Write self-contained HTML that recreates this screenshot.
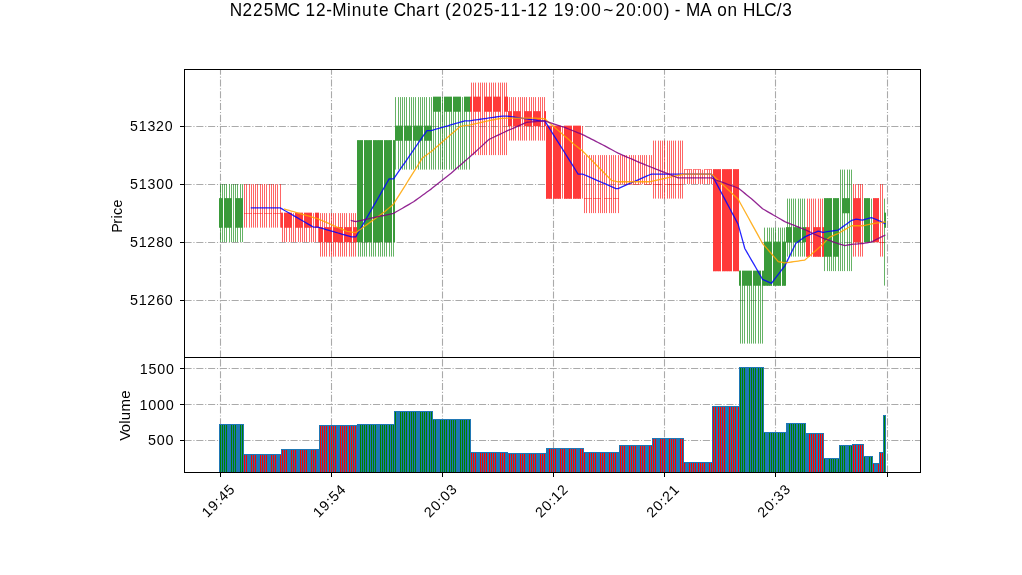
<!DOCTYPE html><html><head><meta charset="utf-8"><title>N225MC chart</title><style>html,body{margin:0;padding:0;background:#fff;overflow:hidden}svg{display:block;will-change:transform}text{font-family:"Liberation Sans",sans-serif;fill:#000}</style></head><body>
<svg width="1022" height="575" viewBox="0 0 1022 575">
<defs><clipPath id="cp"><rect x="184.5" y="69.5" width="736" height="288"/></clipPath>
<clipPath id="cv"><rect x="184.5" y="357.5" width="736" height="115"/></clipPath></defs>
<rect width="1022" height="575" fill="#fff"/>
<g stroke="#aaa" stroke-width="1.1" fill="none" stroke-dasharray="7.11 1.78 1.11 1.78">
<line x1="184.5" y1="126.5" x2="920.5" y2="126.5"/>
<line x1="184.5" y1="184.5" x2="920.5" y2="184.5"/>
<line x1="184.5" y1="242.5" x2="920.5" y2="242.5"/>
<line x1="184.5" y1="300.5" x2="920.5" y2="300.5"/>
<line x1="220.5" y1="357.5" x2="220.5" y2="69.5"/>
<line x1="331.5" y1="357.5" x2="331.5" y2="69.5"/>
<line x1="442.5" y1="357.5" x2="442.5" y2="69.5"/>
<line x1="553.5" y1="357.5" x2="553.5" y2="69.5"/>
<line x1="664.5" y1="357.5" x2="664.5" y2="69.5"/>
<line x1="775.5" y1="357.5" x2="775.5" y2="69.5"/>
<line x1="887.5" y1="357.5" x2="887.5" y2="69.5"/>
<line x1="184.5" y1="368.5" x2="920.5" y2="368.5"/>
<line x1="184.5" y1="404.5" x2="920.5" y2="404.5"/>
<line x1="184.5" y1="440.5" x2="920.5" y2="440.5"/>
<line x1="220.5" y1="472.5" x2="220.5" y2="357.5"/>
<line x1="331.5" y1="472.5" x2="331.5" y2="357.5"/>
<line x1="442.5" y1="472.5" x2="442.5" y2="357.5"/>
<line x1="553.5" y1="472.5" x2="553.5" y2="357.5"/>
<line x1="664.5" y1="472.5" x2="664.5" y2="357.5"/>
<line x1="775.5" y1="472.5" x2="775.5" y2="357.5"/>
<line x1="887.5" y1="472.5" x2="887.5" y2="357.5"/>
</g>
<g clip-path="url(#cp)">
<rect x="220" y="184.1" width="1" height="58" fill="rgba(0,128,0,0.6)"/>
<rect x="222" y="184.1" width="1" height="58" fill="rgba(0,128,0,0.6)"/>
<rect x="224" y="184.1" width="1" height="58" fill="rgba(0,128,0,0.6)"/>
<rect x="226" y="184.1" width="1" height="58" fill="rgba(0,128,0,0.6)"/>
<rect x="229" y="184.1" width="1" height="58" fill="rgba(0,128,0,0.6)"/>
<rect x="231" y="184.1" width="1" height="58" fill="rgba(0,128,0,0.6)"/>
<rect x="233" y="184.1" width="1" height="58" fill="rgba(0,128,0,0.6)"/>
<rect x="235" y="184.1" width="1" height="58" fill="rgba(0,128,0,0.6)"/>
<rect x="237" y="184.1" width="1" height="58" fill="rgba(0,128,0,0.6)"/>
<rect x="240" y="184.1" width="1" height="58" fill="rgba(0,128,0,0.6)"/>
<rect x="242" y="184.1" width="1" height="58" fill="rgba(0,128,0,0.6)"/>
<rect x="244" y="184.1" width="1" height="43.5" fill="rgba(255,0,0,0.6)"/>
<rect x="246" y="184.1" width="1" height="43.5" fill="rgba(255,0,0,0.6)"/>
<rect x="249" y="184.1" width="1" height="43.5" fill="rgba(255,0,0,0.6)"/>
<rect x="251" y="184.1" width="1" height="43.5" fill="rgba(255,0,0,0.6)"/>
<rect x="253" y="184.1" width="1" height="43.5" fill="rgba(255,0,0,0.6)"/>
<rect x="255" y="184.1" width="1" height="43.5" fill="rgba(255,0,0,0.6)"/>
<rect x="257" y="184.1" width="1" height="43.5" fill="rgba(255,0,0,0.6)"/>
<rect x="260" y="184.1" width="1" height="43.5" fill="rgba(255,0,0,0.6)"/>
<rect x="262" y="184.1" width="1" height="43.5" fill="rgba(255,0,0,0.6)"/>
<rect x="264" y="184.1" width="1" height="43.5" fill="rgba(255,0,0,0.6)"/>
<rect x="266" y="184.1" width="1" height="43.5" fill="rgba(255,0,0,0.6)"/>
<rect x="269" y="184.1" width="1" height="43.5" fill="rgba(255,0,0,0.6)"/>
<rect x="271" y="184.1" width="1" height="43.5" fill="rgba(255,0,0,0.6)"/>
<rect x="273" y="184.1" width="1" height="43.5" fill="rgba(255,0,0,0.6)"/>
<rect x="275" y="184.1" width="1" height="43.5" fill="rgba(255,0,0,0.6)"/>
<rect x="277" y="184.1" width="1" height="43.5" fill="rgba(255,0,0,0.6)"/>
<rect x="280" y="184.1" width="1" height="43.5" fill="rgba(255,0,0,0.6)"/>
<rect x="282" y="213.1" width="1" height="29" fill="rgba(255,0,0,0.6)"/>
<rect x="284" y="213.1" width="1" height="29" fill="rgba(255,0,0,0.6)"/>
<rect x="286" y="213.1" width="1" height="29" fill="rgba(255,0,0,0.6)"/>
<rect x="289" y="213.1" width="1" height="29" fill="rgba(255,0,0,0.6)"/>
<rect x="291" y="213.1" width="1" height="29" fill="rgba(255,0,0,0.6)"/>
<rect x="293" y="213.1" width="1" height="29" fill="rgba(255,0,0,0.6)"/>
<rect x="295" y="213.1" width="1" height="29" fill="rgba(255,0,0,0.6)"/>
<rect x="298" y="213.1" width="1" height="29" fill="rgba(255,0,0,0.6)"/>
<rect x="300" y="213.1" width="1" height="29" fill="rgba(255,0,0,0.6)"/>
<rect x="302" y="213.1" width="1" height="29" fill="rgba(255,0,0,0.6)"/>
<rect x="304" y="213.1" width="1" height="29" fill="rgba(255,0,0,0.6)"/>
<rect x="306" y="213.1" width="1" height="29" fill="rgba(255,0,0,0.6)"/>
<rect x="309" y="213.1" width="1" height="29" fill="rgba(255,0,0,0.6)"/>
<rect x="311" y="213.1" width="1" height="29" fill="rgba(255,0,0,0.6)"/>
<rect x="313" y="213.1" width="1" height="29" fill="rgba(255,0,0,0.6)"/>
<rect x="315" y="213.1" width="1" height="29" fill="rgba(255,0,0,0.6)"/>
<rect x="318" y="213.1" width="1" height="29" fill="rgba(255,0,0,0.6)"/>
<rect x="320" y="213.1" width="1" height="43.5" fill="rgba(255,0,0,0.6)"/>
<rect x="322" y="213.1" width="1" height="43.5" fill="rgba(255,0,0,0.6)"/>
<rect x="324" y="213.1" width="1" height="43.5" fill="rgba(255,0,0,0.6)"/>
<rect x="326" y="213.1" width="1" height="43.5" fill="rgba(255,0,0,0.6)"/>
<rect x="329" y="213.1" width="1" height="43.5" fill="rgba(255,0,0,0.6)"/>
<rect x="331" y="213.1" width="1" height="43.5" fill="rgba(255,0,0,0.6)"/>
<rect x="333" y="213.1" width="1" height="43.5" fill="rgba(255,0,0,0.6)"/>
<rect x="335" y="213.1" width="1" height="43.5" fill="rgba(255,0,0,0.6)"/>
<rect x="338" y="213.1" width="1" height="43.5" fill="rgba(255,0,0,0.6)"/>
<rect x="340" y="213.1" width="1" height="43.5" fill="rgba(255,0,0,0.6)"/>
<rect x="342" y="213.1" width="1" height="43.5" fill="rgba(255,0,0,0.6)"/>
<rect x="344" y="213.1" width="1" height="43.5" fill="rgba(255,0,0,0.6)"/>
<rect x="346" y="213.1" width="1" height="43.5" fill="rgba(255,0,0,0.6)"/>
<rect x="349" y="213.1" width="1" height="43.5" fill="rgba(255,0,0,0.6)"/>
<rect x="351" y="213.1" width="1" height="43.5" fill="rgba(255,0,0,0.6)"/>
<rect x="353" y="213.1" width="1" height="43.5" fill="rgba(255,0,0,0.6)"/>
<rect x="355" y="213.1" width="1" height="43.5" fill="rgba(255,0,0,0.6)"/>
<rect x="358" y="140.6" width="1" height="116" fill="rgba(0,128,0,0.6)"/>
<rect x="360" y="140.6" width="1" height="116" fill="rgba(0,128,0,0.6)"/>
<rect x="362" y="140.6" width="1" height="116" fill="rgba(0,128,0,0.6)"/>
<rect x="364" y="140.6" width="1" height="116" fill="rgba(0,128,0,0.6)"/>
<rect x="366" y="140.6" width="1" height="116" fill="rgba(0,128,0,0.6)"/>
<rect x="369" y="140.6" width="1" height="116" fill="rgba(0,128,0,0.6)"/>
<rect x="371" y="140.6" width="1" height="116" fill="rgba(0,128,0,0.6)"/>
<rect x="373" y="140.6" width="1" height="116" fill="rgba(0,128,0,0.6)"/>
<rect x="375" y="140.6" width="1" height="116" fill="rgba(0,128,0,0.6)"/>
<rect x="378" y="140.6" width="1" height="116" fill="rgba(0,128,0,0.6)"/>
<rect x="380" y="140.6" width="1" height="116" fill="rgba(0,128,0,0.6)"/>
<rect x="382" y="140.6" width="1" height="116" fill="rgba(0,128,0,0.6)"/>
<rect x="384" y="140.6" width="1" height="116" fill="rgba(0,128,0,0.6)"/>
<rect x="386" y="140.6" width="1" height="116" fill="rgba(0,128,0,0.6)"/>
<rect x="389" y="140.6" width="1" height="116" fill="rgba(0,128,0,0.6)"/>
<rect x="391" y="140.6" width="1" height="116" fill="rgba(0,128,0,0.6)"/>
<rect x="393" y="140.6" width="1" height="116" fill="rgba(0,128,0,0.6)"/>
<rect x="395" y="97.1" width="1" height="72.5" fill="rgba(0,128,0,0.6)"/>
<rect x="398" y="97.1" width="1" height="72.5" fill="rgba(0,128,0,0.6)"/>
<rect x="400" y="97.1" width="1" height="72.5" fill="rgba(0,128,0,0.6)"/>
<rect x="402" y="97.1" width="1" height="72.5" fill="rgba(0,128,0,0.6)"/>
<rect x="404" y="97.1" width="1" height="72.5" fill="rgba(0,128,0,0.6)"/>
<rect x="406" y="97.1" width="1" height="72.5" fill="rgba(0,128,0,0.6)"/>
<rect x="409" y="97.1" width="1" height="72.5" fill="rgba(0,128,0,0.6)"/>
<rect x="411" y="97.1" width="1" height="72.5" fill="rgba(0,128,0,0.6)"/>
<rect x="413" y="97.1" width="1" height="72.5" fill="rgba(0,128,0,0.6)"/>
<rect x="415" y="97.1" width="1" height="72.5" fill="rgba(0,128,0,0.6)"/>
<rect x="418" y="97.1" width="1" height="72.5" fill="rgba(0,128,0,0.6)"/>
<rect x="420" y="97.1" width="1" height="72.5" fill="rgba(0,128,0,0.6)"/>
<rect x="422" y="97.1" width="1" height="72.5" fill="rgba(0,128,0,0.6)"/>
<rect x="424" y="97.1" width="1" height="72.5" fill="rgba(0,128,0,0.6)"/>
<rect x="426" y="97.1" width="1" height="72.5" fill="rgba(0,128,0,0.6)"/>
<rect x="429" y="97.1" width="1" height="72.5" fill="rgba(0,128,0,0.6)"/>
<rect x="431" y="97.1" width="1" height="72.5" fill="rgba(0,128,0,0.6)"/>
<rect x="433" y="97.1" width="1" height="72.5" fill="rgba(0,128,0,0.6)"/>
<rect x="435" y="97.1" width="1" height="72.5" fill="rgba(0,128,0,0.6)"/>
<rect x="438" y="97.1" width="1" height="72.5" fill="rgba(0,128,0,0.6)"/>
<rect x="440" y="97.1" width="1" height="72.5" fill="rgba(0,128,0,0.6)"/>
<rect x="442" y="97.1" width="1" height="72.5" fill="rgba(0,128,0,0.6)"/>
<rect x="444" y="97.1" width="1" height="72.5" fill="rgba(0,128,0,0.6)"/>
<rect x="446" y="97.1" width="1" height="72.5" fill="rgba(0,128,0,0.6)"/>
<rect x="449" y="97.1" width="1" height="72.5" fill="rgba(0,128,0,0.6)"/>
<rect x="451" y="97.1" width="1" height="72.5" fill="rgba(0,128,0,0.6)"/>
<rect x="453" y="97.1" width="1" height="72.5" fill="rgba(0,128,0,0.6)"/>
<rect x="455" y="97.1" width="1" height="72.5" fill="rgba(0,128,0,0.6)"/>
<rect x="458" y="97.1" width="1" height="72.5" fill="rgba(0,128,0,0.6)"/>
<rect x="460" y="97.1" width="1" height="72.5" fill="rgba(0,128,0,0.6)"/>
<rect x="462" y="97.1" width="1" height="72.5" fill="rgba(0,128,0,0.6)"/>
<rect x="464" y="97.1" width="1" height="72.5" fill="rgba(0,128,0,0.6)"/>
<rect x="466" y="97.1" width="1" height="72.5" fill="rgba(0,128,0,0.6)"/>
<rect x="469" y="97.1" width="1" height="72.5" fill="rgba(0,128,0,0.6)"/>
<rect x="471" y="82.6" width="1" height="72.5" fill="rgba(255,0,0,0.6)"/>
<rect x="473" y="82.6" width="1" height="72.5" fill="rgba(255,0,0,0.6)"/>
<rect x="475" y="82.6" width="1" height="72.5" fill="rgba(255,0,0,0.6)"/>
<rect x="478" y="82.6" width="1" height="72.5" fill="rgba(255,0,0,0.6)"/>
<rect x="480" y="82.6" width="1" height="72.5" fill="rgba(255,0,0,0.6)"/>
<rect x="482" y="82.6" width="1" height="72.5" fill="rgba(255,0,0,0.6)"/>
<rect x="484" y="82.6" width="1" height="72.5" fill="rgba(255,0,0,0.6)"/>
<rect x="486" y="82.6" width="1" height="72.5" fill="rgba(255,0,0,0.6)"/>
<rect x="489" y="82.6" width="1" height="72.5" fill="rgba(255,0,0,0.6)"/>
<rect x="491" y="82.6" width="1" height="72.5" fill="rgba(255,0,0,0.6)"/>
<rect x="493" y="82.6" width="1" height="72.5" fill="rgba(255,0,0,0.6)"/>
<rect x="495" y="82.6" width="1" height="72.5" fill="rgba(255,0,0,0.6)"/>
<rect x="498" y="82.6" width="1" height="72.5" fill="rgba(255,0,0,0.6)"/>
<rect x="500" y="82.6" width="1" height="72.5" fill="rgba(255,0,0,0.6)"/>
<rect x="502" y="82.6" width="1" height="72.5" fill="rgba(255,0,0,0.6)"/>
<rect x="504" y="82.6" width="1" height="72.5" fill="rgba(255,0,0,0.6)"/>
<rect x="506" y="82.6" width="1" height="72.5" fill="rgba(255,0,0,0.6)"/>
<rect x="509" y="97.1" width="1" height="43.5" fill="rgba(255,0,0,0.6)"/>
<rect x="511" y="97.1" width="1" height="43.5" fill="rgba(255,0,0,0.6)"/>
<rect x="513" y="97.1" width="1" height="43.5" fill="rgba(255,0,0,0.6)"/>
<rect x="515" y="97.1" width="1" height="43.5" fill="rgba(255,0,0,0.6)"/>
<rect x="518" y="97.1" width="1" height="43.5" fill="rgba(255,0,0,0.6)"/>
<rect x="520" y="97.1" width="1" height="43.5" fill="rgba(255,0,0,0.6)"/>
<rect x="522" y="97.1" width="1" height="43.5" fill="rgba(255,0,0,0.6)"/>
<rect x="524" y="97.1" width="1" height="43.5" fill="rgba(255,0,0,0.6)"/>
<rect x="526" y="97.1" width="1" height="43.5" fill="rgba(255,0,0,0.6)"/>
<rect x="529" y="97.1" width="1" height="43.5" fill="rgba(255,0,0,0.6)"/>
<rect x="531" y="97.1" width="1" height="43.5" fill="rgba(255,0,0,0.6)"/>
<rect x="533" y="97.1" width="1" height="43.5" fill="rgba(255,0,0,0.6)"/>
<rect x="535" y="97.1" width="1" height="43.5" fill="rgba(255,0,0,0.6)"/>
<rect x="538" y="97.1" width="1" height="43.5" fill="rgba(255,0,0,0.6)"/>
<rect x="540" y="97.1" width="1" height="43.5" fill="rgba(255,0,0,0.6)"/>
<rect x="542" y="97.1" width="1" height="43.5" fill="rgba(255,0,0,0.6)"/>
<rect x="544" y="97.1" width="1" height="43.5" fill="rgba(255,0,0,0.6)"/>
<rect x="546" y="126.1" width="1" height="72.5" fill="rgba(255,0,0,0.6)"/>
<rect x="549" y="126.1" width="1" height="72.5" fill="rgba(255,0,0,0.6)"/>
<rect x="551" y="126.1" width="1" height="72.5" fill="rgba(255,0,0,0.6)"/>
<rect x="553" y="126.1" width="1" height="72.5" fill="rgba(255,0,0,0.6)"/>
<rect x="555" y="126.1" width="1" height="72.5" fill="rgba(255,0,0,0.6)"/>
<rect x="558" y="126.1" width="1" height="72.5" fill="rgba(255,0,0,0.6)"/>
<rect x="560" y="126.1" width="1" height="72.5" fill="rgba(255,0,0,0.6)"/>
<rect x="562" y="126.1" width="1" height="72.5" fill="rgba(255,0,0,0.6)"/>
<rect x="564" y="126.1" width="1" height="72.5" fill="rgba(255,0,0,0.6)"/>
<rect x="566" y="126.1" width="1" height="72.5" fill="rgba(255,0,0,0.6)"/>
<rect x="569" y="126.1" width="1" height="72.5" fill="rgba(255,0,0,0.6)"/>
<rect x="571" y="126.1" width="1" height="72.5" fill="rgba(255,0,0,0.6)"/>
<rect x="573" y="126.1" width="1" height="72.5" fill="rgba(255,0,0,0.6)"/>
<rect x="575" y="126.1" width="1" height="72.5" fill="rgba(255,0,0,0.6)"/>
<rect x="578" y="126.1" width="1" height="72.5" fill="rgba(255,0,0,0.6)"/>
<rect x="580" y="126.1" width="1" height="72.5" fill="rgba(255,0,0,0.6)"/>
<rect x="582" y="126.1" width="1" height="72.5" fill="rgba(255,0,0,0.6)"/>
<rect x="584" y="155.1" width="1" height="58" fill="rgba(255,0,0,0.6)"/>
<rect x="586" y="155.1" width="1" height="58" fill="rgba(255,0,0,0.6)"/>
<rect x="589" y="155.1" width="1" height="58" fill="rgba(255,0,0,0.6)"/>
<rect x="591" y="155.1" width="1" height="58" fill="rgba(255,0,0,0.6)"/>
<rect x="593" y="155.1" width="1" height="58" fill="rgba(255,0,0,0.6)"/>
<rect x="595" y="155.1" width="1" height="58" fill="rgba(255,0,0,0.6)"/>
<rect x="598" y="155.1" width="1" height="58" fill="rgba(255,0,0,0.6)"/>
<rect x="600" y="155.1" width="1" height="58" fill="rgba(255,0,0,0.6)"/>
<rect x="602" y="155.1" width="1" height="58" fill="rgba(255,0,0,0.6)"/>
<rect x="604" y="155.1" width="1" height="58" fill="rgba(255,0,0,0.6)"/>
<rect x="606" y="155.1" width="1" height="58" fill="rgba(255,0,0,0.6)"/>
<rect x="609" y="155.1" width="1" height="58" fill="rgba(255,0,0,0.6)"/>
<rect x="611" y="155.1" width="1" height="58" fill="rgba(255,0,0,0.6)"/>
<rect x="613" y="155.1" width="1" height="58" fill="rgba(255,0,0,0.6)"/>
<rect x="615" y="155.1" width="1" height="58" fill="rgba(255,0,0,0.6)"/>
<rect x="618" y="155.1" width="1" height="58" fill="rgba(255,0,0,0.6)"/>
<rect x="620" y="155.1" width="1" height="29" fill="rgba(255,0,0,0.6)"/>
<rect x="622" y="155.1" width="1" height="29" fill="rgba(255,0,0,0.6)"/>
<rect x="624" y="155.1" width="1" height="29" fill="rgba(255,0,0,0.6)"/>
<rect x="626" y="155.1" width="1" height="29" fill="rgba(255,0,0,0.6)"/>
<rect x="629" y="155.1" width="1" height="29" fill="rgba(255,0,0,0.6)"/>
<rect x="631" y="155.1" width="1" height="29" fill="rgba(255,0,0,0.6)"/>
<rect x="633" y="155.1" width="1" height="29" fill="rgba(255,0,0,0.6)"/>
<rect x="635" y="155.1" width="1" height="29" fill="rgba(255,0,0,0.6)"/>
<rect x="638" y="155.1" width="1" height="29" fill="rgba(255,0,0,0.6)"/>
<rect x="640" y="155.1" width="1" height="29" fill="rgba(255,0,0,0.6)"/>
<rect x="642" y="155.1" width="1" height="29" fill="rgba(255,0,0,0.6)"/>
<rect x="644" y="155.1" width="1" height="29" fill="rgba(255,0,0,0.6)"/>
<rect x="646" y="155.1" width="1" height="29" fill="rgba(255,0,0,0.6)"/>
<rect x="649" y="155.1" width="1" height="29" fill="rgba(255,0,0,0.6)"/>
<rect x="651" y="155.1" width="1" height="29" fill="rgba(255,0,0,0.6)"/>
<rect x="653" y="140.6" width="1" height="58" fill="rgba(255,0,0,0.6)"/>
<rect x="655" y="140.6" width="1" height="58" fill="rgba(255,0,0,0.6)"/>
<rect x="658" y="140.6" width="1" height="58" fill="rgba(255,0,0,0.6)"/>
<rect x="660" y="140.6" width="1" height="58" fill="rgba(255,0,0,0.6)"/>
<rect x="662" y="140.6" width="1" height="58" fill="rgba(255,0,0,0.6)"/>
<rect x="664" y="140.6" width="1" height="58" fill="rgba(255,0,0,0.6)"/>
<rect x="667" y="140.6" width="1" height="58" fill="rgba(255,0,0,0.6)"/>
<rect x="669" y="140.6" width="1" height="58" fill="rgba(255,0,0,0.6)"/>
<rect x="671" y="140.6" width="1" height="58" fill="rgba(255,0,0,0.6)"/>
<rect x="673" y="140.6" width="1" height="58" fill="rgba(255,0,0,0.6)"/>
<rect x="675" y="140.6" width="1" height="58" fill="rgba(255,0,0,0.6)"/>
<rect x="678" y="140.6" width="1" height="58" fill="rgba(255,0,0,0.6)"/>
<rect x="680" y="140.6" width="1" height="58" fill="rgba(255,0,0,0.6)"/>
<rect x="682" y="140.6" width="1" height="58" fill="rgba(255,0,0,0.6)"/>
<rect x="684" y="169.6" width="1" height="14.5" fill="rgba(255,0,0,0.6)"/>
<rect x="687" y="169.6" width="1" height="14.5" fill="rgba(255,0,0,0.6)"/>
<rect x="689" y="169.6" width="1" height="14.5" fill="rgba(255,0,0,0.6)"/>
<rect x="691" y="169.6" width="1" height="14.5" fill="rgba(255,0,0,0.6)"/>
<rect x="693" y="169.6" width="1" height="14.5" fill="rgba(255,0,0,0.6)"/>
<rect x="695" y="169.6" width="1" height="14.5" fill="rgba(255,0,0,0.6)"/>
<rect x="698" y="169.6" width="1" height="14.5" fill="rgba(255,0,0,0.6)"/>
<rect x="700" y="169.6" width="1" height="14.5" fill="rgba(255,0,0,0.6)"/>
<rect x="702" y="169.6" width="1" height="14.5" fill="rgba(255,0,0,0.6)"/>
<rect x="704" y="169.6" width="1" height="14.5" fill="rgba(255,0,0,0.6)"/>
<rect x="707" y="169.6" width="1" height="14.5" fill="rgba(255,0,0,0.6)"/>
<rect x="709" y="169.6" width="1" height="14.5" fill="rgba(255,0,0,0.6)"/>
<rect x="711" y="169.6" width="1" height="14.5" fill="rgba(255,0,0,0.6)"/>
<rect x="713" y="169.6" width="1" height="101.5" fill="rgba(255,0,0,0.6)"/>
<rect x="715" y="169.6" width="1" height="101.5" fill="rgba(255,0,0,0.6)"/>
<rect x="718" y="169.6" width="1" height="101.5" fill="rgba(255,0,0,0.6)"/>
<rect x="720" y="169.6" width="1" height="101.5" fill="rgba(255,0,0,0.6)"/>
<rect x="722" y="169.6" width="1" height="101.5" fill="rgba(255,0,0,0.6)"/>
<rect x="724" y="169.6" width="1" height="101.5" fill="rgba(255,0,0,0.6)"/>
<rect x="727" y="169.6" width="1" height="101.5" fill="rgba(255,0,0,0.6)"/>
<rect x="729" y="169.6" width="1" height="101.5" fill="rgba(255,0,0,0.6)"/>
<rect x="731" y="169.6" width="1" height="101.5" fill="rgba(255,0,0,0.6)"/>
<rect x="733" y="169.6" width="1" height="101.5" fill="rgba(255,0,0,0.6)"/>
<rect x="735" y="169.6" width="1" height="101.5" fill="rgba(255,0,0,0.6)"/>
<rect x="738" y="169.6" width="1" height="101.5" fill="rgba(255,0,0,0.6)"/>
<rect x="740" y="271.1" width="1" height="72.5" fill="rgba(0,128,0,0.6)"/>
<rect x="742" y="271.1" width="1" height="72.5" fill="rgba(0,128,0,0.6)"/>
<rect x="744" y="271.1" width="1" height="72.5" fill="rgba(0,128,0,0.6)"/>
<rect x="747" y="271.1" width="1" height="72.5" fill="rgba(0,128,0,0.6)"/>
<rect x="749" y="271.1" width="1" height="72.5" fill="rgba(0,128,0,0.6)"/>
<rect x="751" y="271.1" width="1" height="72.5" fill="rgba(0,128,0,0.6)"/>
<rect x="753" y="271.1" width="1" height="72.5" fill="rgba(0,128,0,0.6)"/>
<rect x="755" y="271.1" width="1" height="72.5" fill="rgba(0,128,0,0.6)"/>
<rect x="758" y="271.1" width="1" height="72.5" fill="rgba(0,128,0,0.6)"/>
<rect x="760" y="271.1" width="1" height="72.5" fill="rgba(0,128,0,0.6)"/>
<rect x="762" y="271.1" width="1" height="72.5" fill="rgba(0,128,0,0.6)"/>
<rect x="764" y="227.6" width="1" height="58" fill="rgba(0,128,0,0.6)"/>
<rect x="767" y="227.6" width="1" height="58" fill="rgba(0,128,0,0.6)"/>
<rect x="769" y="227.6" width="1" height="58" fill="rgba(0,128,0,0.6)"/>
<rect x="771" y="227.6" width="1" height="58" fill="rgba(0,128,0,0.6)"/>
<rect x="773" y="227.6" width="1" height="58" fill="rgba(0,128,0,0.6)"/>
<rect x="775" y="227.6" width="1" height="58" fill="rgba(0,128,0,0.6)"/>
<rect x="778" y="227.6" width="1" height="58" fill="rgba(0,128,0,0.6)"/>
<rect x="780" y="227.6" width="1" height="58" fill="rgba(0,128,0,0.6)"/>
<rect x="782" y="227.6" width="1" height="58" fill="rgba(0,128,0,0.6)"/>
<rect x="784" y="227.6" width="1" height="58" fill="rgba(0,128,0,0.6)"/>
<rect x="787" y="198.6" width="1" height="58" fill="rgba(0,128,0,0.6)"/>
<rect x="789" y="198.6" width="1" height="58" fill="rgba(0,128,0,0.6)"/>
<rect x="791" y="198.6" width="1" height="58" fill="rgba(0,128,0,0.6)"/>
<rect x="793" y="198.6" width="1" height="58" fill="rgba(0,128,0,0.6)"/>
<rect x="795" y="198.6" width="1" height="58" fill="rgba(0,128,0,0.6)"/>
<rect x="798" y="198.6" width="1" height="58" fill="rgba(0,128,0,0.6)"/>
<rect x="800" y="198.6" width="1" height="58" fill="rgba(0,128,0,0.6)"/>
<rect x="802" y="198.6" width="1" height="58" fill="rgba(0,128,0,0.6)"/>
<rect x="804" y="198.6" width="1" height="58" fill="rgba(0,128,0,0.6)"/>
<rect x="807" y="198.6" width="1" height="58" fill="rgba(255,0,0,0.6)"/>
<rect x="809" y="198.6" width="1" height="58" fill="rgba(255,0,0,0.6)"/>
<rect x="811" y="198.6" width="1" height="58" fill="rgba(255,0,0,0.6)"/>
<rect x="813" y="198.6" width="1" height="58" fill="rgba(255,0,0,0.6)"/>
<rect x="815" y="198.6" width="1" height="58" fill="rgba(255,0,0,0.6)"/>
<rect x="818" y="198.6" width="1" height="58" fill="rgba(255,0,0,0.6)"/>
<rect x="820" y="198.6" width="1" height="58" fill="rgba(255,0,0,0.6)"/>
<rect x="822" y="198.6" width="1" height="58" fill="rgba(255,0,0,0.6)"/>
<rect x="824" y="198.6" width="1" height="72.5" fill="rgba(0,128,0,0.6)"/>
<rect x="827" y="198.6" width="1" height="72.5" fill="rgba(0,128,0,0.6)"/>
<rect x="829" y="198.6" width="1" height="72.5" fill="rgba(0,128,0,0.6)"/>
<rect x="831" y="198.6" width="1" height="72.5" fill="rgba(0,128,0,0.6)"/>
<rect x="833" y="198.6" width="1" height="72.5" fill="rgba(0,128,0,0.6)"/>
<rect x="835" y="198.6" width="1" height="72.5" fill="rgba(0,128,0,0.6)"/>
<rect x="838" y="198.6" width="1" height="72.5" fill="rgba(0,128,0,0.6)"/>
<rect x="840" y="169.6" width="1" height="101.5" fill="rgba(0,128,0,0.6)"/>
<rect x="842" y="169.6" width="1" height="101.5" fill="rgba(0,128,0,0.6)"/>
<rect x="844" y="169.6" width="1" height="101.5" fill="rgba(0,128,0,0.6)"/>
<rect x="847" y="169.6" width="1" height="101.5" fill="rgba(0,128,0,0.6)"/>
<rect x="849" y="169.6" width="1" height="101.5" fill="rgba(0,128,0,0.6)"/>
<rect x="851" y="169.6" width="1" height="101.5" fill="rgba(0,128,0,0.6)"/>
<rect x="853" y="184.1" width="1" height="72.5" fill="rgba(255,0,0,0.6)"/>
<rect x="855" y="184.1" width="1" height="72.5" fill="rgba(255,0,0,0.6)"/>
<rect x="858" y="184.1" width="1" height="72.5" fill="rgba(255,0,0,0.6)"/>
<rect x="860" y="184.1" width="1" height="72.5" fill="rgba(255,0,0,0.6)"/>
<rect x="862" y="184.1" width="1" height="72.5" fill="rgba(255,0,0,0.6)"/>
<rect x="864" y="198.6" width="1" height="43.5" fill="rgba(0,128,0,0.6)"/>
<rect x="867" y="198.6" width="1" height="43.5" fill="rgba(0,128,0,0.6)"/>
<rect x="869" y="198.6" width="1" height="43.5" fill="rgba(0,128,0,0.6)"/>
<rect x="871" y="198.6" width="1" height="43.5" fill="rgba(0,128,0,0.6)"/>
<rect x="873" y="198.6" width="1" height="43.5" fill="rgba(255,0,0,0.6)"/>
<rect x="875" y="198.6" width="1" height="43.5" fill="rgba(255,0,0,0.6)"/>
<rect x="878" y="198.6" width="1" height="43.5" fill="rgba(255,0,0,0.6)"/>
<rect x="880" y="184.1" width="1" height="72.5" fill="rgba(255,0,0,0.6)"/>
<rect x="882" y="184.1" width="1" height="72.5" fill="rgba(255,0,0,0.6)"/>
<rect x="884" y="198.6" width="1" height="87" fill="rgba(0,128,0,0.6)"/>
<rect x="219" y="198.15" width="2" height="29.6" fill="#3a9a3a"/>
<rect x="221" y="198.15" width="2" height="29.6" fill="#3a9a3a"/>
<rect x="224" y="198.15" width="2" height="29.6" fill="#3a9a3a"/>
<rect x="226" y="198.15" width="2" height="29.6" fill="#3a9a3a"/>
<rect x="228" y="198.15" width="2" height="29.6" fill="#3a9a3a"/>
<rect x="230" y="198.15" width="2" height="29.6" fill="#3a9a3a"/>
<rect x="235" y="198.15" width="2" height="29.6" fill="#3a9a3a"/>
<rect x="237" y="198.15" width="2" height="29.6" fill="#3a9a3a"/>
<rect x="239" y="198.15" width="2" height="29.6" fill="#3a9a3a"/>
<rect x="241" y="198.15" width="2" height="29.6" fill="#3a9a3a"/>
<rect x="244" y="213" width="2" height="1" fill="rgba(255,0,0,0.45)"/>
<rect x="246" y="213" width="2" height="1" fill="rgba(255,0,0,0.45)"/>
<rect x="248" y="213" width="2" height="1" fill="rgba(255,0,0,0.45)"/>
<rect x="250" y="213" width="2" height="1" fill="rgba(255,0,0,0.45)"/>
<rect x="253" y="213" width="2" height="1" fill="rgba(255,0,0,0.45)"/>
<rect x="255" y="213" width="2" height="1" fill="rgba(255,0,0,0.45)"/>
<rect x="257" y="213" width="2" height="1" fill="rgba(255,0,0,0.45)"/>
<rect x="259" y="213" width="2" height="1" fill="rgba(255,0,0,0.45)"/>
<rect x="261" y="213" width="2" height="1" fill="rgba(255,0,0,0.45)"/>
<rect x="264" y="213" width="2" height="1" fill="rgba(255,0,0,0.45)"/>
<rect x="266" y="213" width="2" height="1" fill="rgba(255,0,0,0.45)"/>
<rect x="268" y="213" width="2" height="1" fill="rgba(255,0,0,0.45)"/>
<rect x="270" y="213" width="2" height="1" fill="rgba(255,0,0,0.45)"/>
<rect x="273" y="213" width="2" height="1" fill="rgba(255,0,0,0.45)"/>
<rect x="275" y="213" width="2" height="1" fill="rgba(255,0,0,0.45)"/>
<rect x="277" y="213" width="2" height="1" fill="rgba(255,0,0,0.45)"/>
<rect x="279" y="213" width="2" height="1" fill="rgba(255,0,0,0.45)"/>
<rect x="281" y="212.65" width="2" height="15.1" fill="#ff3a3a"/>
<rect x="284" y="212.65" width="2" height="15.1" fill="#ff3a3a"/>
<rect x="286" y="212.65" width="2" height="15.1" fill="#ff3a3a"/>
<rect x="288" y="212.65" width="2" height="15.1" fill="#ff3a3a"/>
<rect x="290" y="212.65" width="2" height="15.1" fill="#ff3a3a"/>
<rect x="295" y="212.65" width="2" height="15.1" fill="#ff3a3a"/>
<rect x="297" y="212.65" width="2" height="15.1" fill="#ff3a3a"/>
<rect x="299" y="212.65" width="2" height="15.1" fill="#ff3a3a"/>
<rect x="301" y="212.65" width="2" height="15.1" fill="#ff3a3a"/>
<rect x="304" y="212.65" width="2" height="15.1" fill="#ff3a3a"/>
<rect x="306" y="212.65" width="2" height="15.1" fill="#ff3a3a"/>
<rect x="308" y="212.65" width="2" height="15.1" fill="#ff3a3a"/>
<rect x="310" y="212.65" width="2" height="15.1" fill="#ff3a3a"/>
<rect x="315" y="212.65" width="2" height="15.1" fill="#ff3a3a"/>
<rect x="317" y="212.65" width="2" height="15.1" fill="#ff3a3a"/>
<rect x="319" y="227.15" width="2" height="15.1" fill="#ff3a3a"/>
<rect x="321" y="227.15" width="2" height="15.1" fill="#ff3a3a"/>
<rect x="324" y="227.15" width="2" height="15.1" fill="#ff3a3a"/>
<rect x="326" y="227.15" width="2" height="15.1" fill="#ff3a3a"/>
<rect x="328" y="227.15" width="2" height="15.1" fill="#ff3a3a"/>
<rect x="330" y="227.15" width="2" height="15.1" fill="#ff3a3a"/>
<rect x="333" y="227.15" width="2" height="15.1" fill="#ff3a3a"/>
<rect x="335" y="227.15" width="2" height="15.1" fill="#ff3a3a"/>
<rect x="337" y="227.15" width="2" height="15.1" fill="#ff3a3a"/>
<rect x="339" y="227.15" width="2" height="15.1" fill="#ff3a3a"/>
<rect x="341" y="227.15" width="2" height="15.1" fill="#ff3a3a"/>
<rect x="344" y="227.15" width="2" height="15.1" fill="#ff3a3a"/>
<rect x="346" y="227.15" width="2" height="15.1" fill="#ff3a3a"/>
<rect x="348" y="227.15" width="2" height="15.1" fill="#ff3a3a"/>
<rect x="350" y="227.15" width="2" height="15.1" fill="#ff3a3a"/>
<rect x="353" y="227.15" width="2" height="15.1" fill="#ff3a3a"/>
<rect x="355" y="227.15" width="2" height="15.1" fill="#ff3a3a"/>
<rect x="357" y="140.15" width="2" height="102.1" fill="#3a9a3a"/>
<rect x="359" y="140.15" width="2" height="102.1" fill="#3a9a3a"/>
<rect x="361" y="140.15" width="2" height="102.1" fill="#3a9a3a"/>
<rect x="364" y="140.15" width="2" height="102.1" fill="#3a9a3a"/>
<rect x="366" y="140.15" width="2" height="102.1" fill="#3a9a3a"/>
<rect x="368" y="140.15" width="2" height="102.1" fill="#3a9a3a"/>
<rect x="370" y="140.15" width="2" height="102.1" fill="#3a9a3a"/>
<rect x="373" y="140.15" width="2" height="102.1" fill="#3a9a3a"/>
<rect x="375" y="140.15" width="2" height="102.1" fill="#3a9a3a"/>
<rect x="377" y="140.15" width="2" height="102.1" fill="#3a9a3a"/>
<rect x="379" y="140.15" width="2" height="102.1" fill="#3a9a3a"/>
<rect x="381" y="140.15" width="2" height="102.1" fill="#3a9a3a"/>
<rect x="384" y="140.15" width="2" height="102.1" fill="#3a9a3a"/>
<rect x="386" y="140.15" width="2" height="102.1" fill="#3a9a3a"/>
<rect x="388" y="140.15" width="2" height="102.1" fill="#3a9a3a"/>
<rect x="390" y="140.15" width="2" height="102.1" fill="#3a9a3a"/>
<rect x="393" y="140.15" width="2" height="102.1" fill="#3a9a3a"/>
<rect x="395" y="125.65" width="2" height="15.1" fill="#3a9a3a"/>
<rect x="397" y="125.65" width="2" height="15.1" fill="#3a9a3a"/>
<rect x="399" y="125.65" width="2" height="15.1" fill="#3a9a3a"/>
<rect x="401" y="125.65" width="2" height="15.1" fill="#3a9a3a"/>
<rect x="404" y="125.65" width="2" height="15.1" fill="#3a9a3a"/>
<rect x="406" y="125.65" width="2" height="15.1" fill="#3a9a3a"/>
<rect x="408" y="125.65" width="2" height="15.1" fill="#3a9a3a"/>
<rect x="410" y="125.65" width="2" height="15.1" fill="#3a9a3a"/>
<rect x="413" y="125.65" width="2" height="15.1" fill="#3a9a3a"/>
<rect x="415" y="125.65" width="2" height="15.1" fill="#3a9a3a"/>
<rect x="417" y="125.65" width="2" height="15.1" fill="#3a9a3a"/>
<rect x="419" y="125.65" width="2" height="15.1" fill="#3a9a3a"/>
<rect x="421" y="125.65" width="2" height="15.1" fill="#3a9a3a"/>
<rect x="424" y="125.65" width="2" height="15.1" fill="#3a9a3a"/>
<rect x="426" y="125.65" width="2" height="15.1" fill="#3a9a3a"/>
<rect x="428" y="125.65" width="2" height="15.1" fill="#3a9a3a"/>
<rect x="430" y="125.65" width="2" height="15.1" fill="#3a9a3a"/>
<rect x="433" y="96.65" width="2" height="15.1" fill="#3a9a3a"/>
<rect x="435" y="96.65" width="2" height="15.1" fill="#3a9a3a"/>
<rect x="437" y="96.65" width="2" height="15.1" fill="#3a9a3a"/>
<rect x="439" y="96.65" width="2" height="15.1" fill="#3a9a3a"/>
<rect x="444" y="96.65" width="2" height="15.1" fill="#3a9a3a"/>
<rect x="446" y="96.65" width="2" height="15.1" fill="#3a9a3a"/>
<rect x="448" y="96.65" width="2" height="15.1" fill="#3a9a3a"/>
<rect x="450" y="96.65" width="2" height="15.1" fill="#3a9a3a"/>
<rect x="453" y="96.65" width="2" height="15.1" fill="#3a9a3a"/>
<rect x="455" y="96.65" width="2" height="15.1" fill="#3a9a3a"/>
<rect x="457" y="96.65" width="2" height="15.1" fill="#3a9a3a"/>
<rect x="459" y="96.65" width="2" height="15.1" fill="#3a9a3a"/>
<rect x="464" y="96.65" width="2" height="15.1" fill="#3a9a3a"/>
<rect x="466" y="96.65" width="2" height="15.1" fill="#3a9a3a"/>
<rect x="468" y="96.65" width="2" height="15.1" fill="#3a9a3a"/>
<rect x="470" y="96.65" width="2" height="15.1" fill="#ff3a3a"/>
<rect x="473" y="96.65" width="2" height="15.1" fill="#ff3a3a"/>
<rect x="475" y="96.65" width="2" height="15.1" fill="#ff3a3a"/>
<rect x="477" y="96.65" width="2" height="15.1" fill="#ff3a3a"/>
<rect x="479" y="96.65" width="2" height="15.1" fill="#ff3a3a"/>
<rect x="484" y="96.65" width="2" height="15.1" fill="#ff3a3a"/>
<rect x="486" y="96.65" width="2" height="15.1" fill="#ff3a3a"/>
<rect x="488" y="96.65" width="2" height="15.1" fill="#ff3a3a"/>
<rect x="490" y="96.65" width="2" height="15.1" fill="#ff3a3a"/>
<rect x="493" y="96.65" width="2" height="15.1" fill="#ff3a3a"/>
<rect x="495" y="96.65" width="2" height="15.1" fill="#ff3a3a"/>
<rect x="497" y="96.65" width="2" height="15.1" fill="#ff3a3a"/>
<rect x="499" y="96.65" width="2" height="15.1" fill="#ff3a3a"/>
<rect x="504" y="96.65" width="2" height="15.1" fill="#ff3a3a"/>
<rect x="506" y="96.65" width="2" height="15.1" fill="#ff3a3a"/>
<rect x="508" y="111.15" width="2" height="15.1" fill="#ff3a3a"/>
<rect x="510" y="111.15" width="2" height="15.1" fill="#ff3a3a"/>
<rect x="513" y="111.15" width="2" height="15.1" fill="#ff3a3a"/>
<rect x="515" y="111.15" width="2" height="15.1" fill="#ff3a3a"/>
<rect x="517" y="111.15" width="2" height="15.1" fill="#ff3a3a"/>
<rect x="519" y="111.15" width="2" height="15.1" fill="#ff3a3a"/>
<rect x="524" y="111.15" width="2" height="15.1" fill="#ff3a3a"/>
<rect x="526" y="111.15" width="2" height="15.1" fill="#ff3a3a"/>
<rect x="528" y="111.15" width="2" height="15.1" fill="#ff3a3a"/>
<rect x="530" y="111.15" width="2" height="15.1" fill="#ff3a3a"/>
<rect x="533" y="111.15" width="2" height="15.1" fill="#ff3a3a"/>
<rect x="535" y="111.15" width="2" height="15.1" fill="#ff3a3a"/>
<rect x="537" y="111.15" width="2" height="15.1" fill="#ff3a3a"/>
<rect x="539" y="111.15" width="2" height="15.1" fill="#ff3a3a"/>
<rect x="544" y="111.15" width="2" height="15.1" fill="#ff3a3a"/>
<rect x="546" y="125.65" width="2" height="73.1" fill="#ff3a3a"/>
<rect x="548" y="125.65" width="2" height="73.1" fill="#ff3a3a"/>
<rect x="550" y="125.65" width="2" height="73.1" fill="#ff3a3a"/>
<rect x="553" y="125.65" width="2" height="73.1" fill="#ff3a3a"/>
<rect x="555" y="125.65" width="2" height="73.1" fill="#ff3a3a"/>
<rect x="557" y="125.65" width="2" height="73.1" fill="#ff3a3a"/>
<rect x="559" y="125.65" width="2" height="73.1" fill="#ff3a3a"/>
<rect x="564" y="125.65" width="2" height="73.1" fill="#ff3a3a"/>
<rect x="566" y="125.65" width="2" height="73.1" fill="#ff3a3a"/>
<rect x="568" y="125.65" width="2" height="73.1" fill="#ff3a3a"/>
<rect x="570" y="125.65" width="2" height="73.1" fill="#ff3a3a"/>
<rect x="573" y="125.65" width="2" height="73.1" fill="#ff3a3a"/>
<rect x="575" y="125.65" width="2" height="73.1" fill="#ff3a3a"/>
<rect x="577" y="125.65" width="2" height="73.1" fill="#ff3a3a"/>
<rect x="579" y="125.65" width="2" height="73.1" fill="#ff3a3a"/>
<rect x="584" y="198" width="2" height="1" fill="rgba(255,0,0,0.45)"/>
<rect x="586" y="198" width="2" height="1" fill="rgba(255,0,0,0.45)"/>
<rect x="588" y="198" width="2" height="1" fill="rgba(255,0,0,0.45)"/>
<rect x="590" y="198" width="2" height="1" fill="rgba(255,0,0,0.45)"/>
<rect x="593" y="198" width="2" height="1" fill="rgba(255,0,0,0.45)"/>
<rect x="595" y="198" width="2" height="1" fill="rgba(255,0,0,0.45)"/>
<rect x="597" y="198" width="2" height="1" fill="rgba(255,0,0,0.45)"/>
<rect x="599" y="198" width="2" height="1" fill="rgba(255,0,0,0.45)"/>
<rect x="604" y="198" width="2" height="1" fill="rgba(255,0,0,0.45)"/>
<rect x="606" y="198" width="2" height="1" fill="rgba(255,0,0,0.45)"/>
<rect x="608" y="198" width="2" height="1" fill="rgba(255,0,0,0.45)"/>
<rect x="610" y="198" width="2" height="1" fill="rgba(255,0,0,0.45)"/>
<rect x="613" y="198" width="2" height="1" fill="rgba(255,0,0,0.45)"/>
<rect x="615" y="198" width="2" height="1" fill="rgba(255,0,0,0.45)"/>
<rect x="617" y="198" width="2" height="1" fill="rgba(255,0,0,0.45)"/>
<rect x="619" y="184" width="2" height="1" fill="rgba(255,0,0,0.45)"/>
<rect x="624" y="184" width="2" height="1" fill="rgba(255,0,0,0.45)"/>
<rect x="626" y="184" width="2" height="1" fill="rgba(255,0,0,0.45)"/>
<rect x="628" y="184" width="2" height="1" fill="rgba(255,0,0,0.45)"/>
<rect x="630" y="184" width="2" height="1" fill="rgba(255,0,0,0.45)"/>
<rect x="633" y="184" width="2" height="1" fill="rgba(255,0,0,0.45)"/>
<rect x="635" y="184" width="2" height="1" fill="rgba(255,0,0,0.45)"/>
<rect x="637" y="184" width="2" height="1" fill="rgba(255,0,0,0.45)"/>
<rect x="639" y="184" width="2" height="1" fill="rgba(255,0,0,0.45)"/>
<rect x="644" y="184" width="2" height="1" fill="rgba(255,0,0,0.45)"/>
<rect x="646" y="184" width="2" height="1" fill="rgba(255,0,0,0.45)"/>
<rect x="648" y="184" width="2" height="1" fill="rgba(255,0,0,0.45)"/>
<rect x="650" y="184" width="2" height="1" fill="rgba(255,0,0,0.45)"/>
<rect x="653" y="184" width="2" height="1" fill="rgba(255,0,0,0.45)"/>
<rect x="655" y="184" width="2" height="1" fill="rgba(255,0,0,0.45)"/>
<rect x="657" y="184" width="2" height="1" fill="rgba(255,0,0,0.45)"/>
<rect x="659" y="184" width="2" height="1" fill="rgba(255,0,0,0.45)"/>
<rect x="664" y="184" width="2" height="1" fill="rgba(255,0,0,0.45)"/>
<rect x="666" y="184" width="2" height="1" fill="rgba(255,0,0,0.45)"/>
<rect x="668" y="184" width="2" height="1" fill="rgba(255,0,0,0.45)"/>
<rect x="670" y="184" width="2" height="1" fill="rgba(255,0,0,0.45)"/>
<rect x="673" y="184" width="2" height="1" fill="rgba(255,0,0,0.45)"/>
<rect x="675" y="184" width="2" height="1" fill="rgba(255,0,0,0.45)"/>
<rect x="677" y="184" width="2" height="1" fill="rgba(255,0,0,0.45)"/>
<rect x="679" y="184" width="2" height="1" fill="rgba(255,0,0,0.45)"/>
<rect x="684" y="169" width="2" height="1" fill="rgba(255,0,0,0.45)"/>
<rect x="686" y="169" width="2" height="1" fill="rgba(255,0,0,0.45)"/>
<rect x="688" y="169" width="2" height="1" fill="rgba(255,0,0,0.45)"/>
<rect x="690" y="169" width="2" height="1" fill="rgba(255,0,0,0.45)"/>
<rect x="693" y="169" width="2" height="1" fill="rgba(255,0,0,0.45)"/>
<rect x="695" y="169" width="2" height="1" fill="rgba(255,0,0,0.45)"/>
<rect x="697" y="169" width="2" height="1" fill="rgba(255,0,0,0.45)"/>
<rect x="699" y="169" width="2" height="1" fill="rgba(255,0,0,0.45)"/>
<rect x="704" y="169" width="2" height="1" fill="rgba(255,0,0,0.45)"/>
<rect x="706" y="169" width="2" height="1" fill="rgba(255,0,0,0.45)"/>
<rect x="708" y="169" width="2" height="1" fill="rgba(255,0,0,0.45)"/>
<rect x="710" y="169" width="2" height="1" fill="rgba(255,0,0,0.45)"/>
<rect x="713" y="169.15" width="2" height="102.1" fill="#ff3a3a"/>
<rect x="715" y="169.15" width="2" height="102.1" fill="#ff3a3a"/>
<rect x="717" y="169.15" width="2" height="102.1" fill="#ff3a3a"/>
<rect x="719" y="169.15" width="2" height="102.1" fill="#ff3a3a"/>
<rect x="722" y="169.15" width="2" height="102.1" fill="#ff3a3a"/>
<rect x="724" y="169.15" width="2" height="102.1" fill="#ff3a3a"/>
<rect x="726" y="169.15" width="2" height="102.1" fill="#ff3a3a"/>
<rect x="728" y="169.15" width="2" height="102.1" fill="#ff3a3a"/>
<rect x="730" y="169.15" width="2" height="102.1" fill="#ff3a3a"/>
<rect x="733" y="169.15" width="2" height="102.1" fill="#ff3a3a"/>
<rect x="735" y="169.15" width="2" height="102.1" fill="#ff3a3a"/>
<rect x="737" y="169.15" width="2" height="102.1" fill="#ff3a3a"/>
<rect x="739" y="270.65" width="2" height="15.1" fill="#3a9a3a"/>
<rect x="742" y="270.65" width="2" height="15.1" fill="#3a9a3a"/>
<rect x="744" y="270.65" width="2" height="15.1" fill="#3a9a3a"/>
<rect x="746" y="270.65" width="2" height="15.1" fill="#3a9a3a"/>
<rect x="748" y="270.65" width="2" height="15.1" fill="#3a9a3a"/>
<rect x="750" y="270.65" width="2" height="15.1" fill="#3a9a3a"/>
<rect x="753" y="270.65" width="2" height="15.1" fill="#3a9a3a"/>
<rect x="755" y="270.65" width="2" height="15.1" fill="#3a9a3a"/>
<rect x="757" y="270.65" width="2" height="15.1" fill="#3a9a3a"/>
<rect x="759" y="270.65" width="2" height="15.1" fill="#3a9a3a"/>
<rect x="762" y="270.65" width="2" height="15.1" fill="#3a9a3a"/>
<rect x="764" y="241.65" width="2" height="44.1" fill="#3a9a3a"/>
<rect x="766" y="241.65" width="2" height="44.1" fill="#3a9a3a"/>
<rect x="768" y="241.65" width="2" height="44.1" fill="#3a9a3a"/>
<rect x="770" y="241.65" width="2" height="44.1" fill="#3a9a3a"/>
<rect x="773" y="241.65" width="2" height="44.1" fill="#3a9a3a"/>
<rect x="775" y="241.65" width="2" height="44.1" fill="#3a9a3a"/>
<rect x="777" y="241.65" width="2" height="44.1" fill="#3a9a3a"/>
<rect x="779" y="241.65" width="2" height="44.1" fill="#3a9a3a"/>
<rect x="782" y="241.65" width="2" height="44.1" fill="#3a9a3a"/>
<rect x="784" y="241.65" width="2" height="44.1" fill="#3a9a3a"/>
<rect x="786" y="227.15" width="2" height="15.1" fill="#3a9a3a"/>
<rect x="788" y="227.15" width="2" height="15.1" fill="#3a9a3a"/>
<rect x="790" y="227.15" width="2" height="15.1" fill="#3a9a3a"/>
<rect x="793" y="227.15" width="2" height="15.1" fill="#3a9a3a"/>
<rect x="795" y="227.15" width="2" height="15.1" fill="#3a9a3a"/>
<rect x="797" y="227.15" width="2" height="15.1" fill="#3a9a3a"/>
<rect x="799" y="227.15" width="2" height="15.1" fill="#3a9a3a"/>
<rect x="802" y="227.15" width="2" height="15.1" fill="#3a9a3a"/>
<rect x="804" y="227.15" width="2" height="15.1" fill="#3a9a3a"/>
<rect x="806" y="227.15" width="2" height="29.6" fill="#ff3a3a"/>
<rect x="808" y="227.15" width="2" height="29.6" fill="#ff3a3a"/>
<rect x="813" y="227.15" width="2" height="29.6" fill="#ff3a3a"/>
<rect x="815" y="227.15" width="2" height="29.6" fill="#ff3a3a"/>
<rect x="817" y="227.15" width="2" height="29.6" fill="#ff3a3a"/>
<rect x="819" y="227.15" width="2" height="29.6" fill="#ff3a3a"/>
<rect x="822" y="227.15" width="2" height="29.6" fill="#ff3a3a"/>
<rect x="824" y="198.15" width="2" height="58.6" fill="#3a9a3a"/>
<rect x="826" y="198.15" width="2" height="58.6" fill="#3a9a3a"/>
<rect x="828" y="198.15" width="2" height="58.6" fill="#3a9a3a"/>
<rect x="830" y="198.15" width="2" height="58.6" fill="#3a9a3a"/>
<rect x="833" y="198.15" width="2" height="58.6" fill="#3a9a3a"/>
<rect x="835" y="198.15" width="2" height="58.6" fill="#3a9a3a"/>
<rect x="837" y="198.15" width="2" height="58.6" fill="#3a9a3a"/>
<rect x="842" y="198.15" width="2" height="15.1" fill="#3a9a3a"/>
<rect x="844" y="198.15" width="2" height="15.1" fill="#3a9a3a"/>
<rect x="846" y="198.15" width="2" height="15.1" fill="#3a9a3a"/>
<rect x="848" y="198.15" width="2" height="15.1" fill="#3a9a3a"/>
<rect x="853" y="198.15" width="2" height="44.1" fill="#ff3a3a"/>
<rect x="855" y="198.15" width="2" height="44.1" fill="#ff3a3a"/>
<rect x="857" y="198.15" width="2" height="44.1" fill="#ff3a3a"/>
<rect x="859" y="198.15" width="2" height="44.1" fill="#ff3a3a"/>
<rect x="864" y="198.15" width="2" height="44.1" fill="#3a9a3a"/>
<rect x="866" y="198.15" width="2" height="44.1" fill="#3a9a3a"/>
<rect x="868" y="198.15" width="2" height="44.1" fill="#3a9a3a"/>
<rect x="873" y="198.15" width="2" height="44.1" fill="#ff3a3a"/>
<rect x="875" y="198.15" width="2" height="44.1" fill="#ff3a3a"/>
<rect x="877" y="198.15" width="2" height="44.1" fill="#ff3a3a"/>
<rect x="879" y="242" width="2" height="1" fill="rgba(255,0,0,0.45)"/>
<rect x="882" y="242" width="2" height="1" fill="rgba(255,0,0,0.45)"/>
<rect x="884" y="212.65" width="2" height="15.1" fill="#3a9a3a"/>
</g>
<g clip-path="url(#cp)" fill="none" stroke-width="1.3" stroke-opacity="0.85" stroke-linejoin="round" stroke-linecap="square">
<polyline stroke="#0000ff" points="251.32,207.87 253.54,207.87 255.77,207.87 257.99,207.87 260.21,207.87 262.44,207.87 264.66,207.87 266.88,207.87 269.1,207.87 271.33,207.87 273.55,207.87 275.77,207.87 278,207.87 280.22,207.87 282.44,209.16 284.66,210.44 286.89,211.73 289.11,213.02 291.33,214.31 293.56,215.6 295.78,216.89 298,218.18 300.22,219.47 302.45,220.76 304.67,222.04 306.89,223.33 309.12,224.62 311.34,225.91 313.56,227.2 315.78,227.2 318.01,227.2 320.23,227.84 322.45,228.49 324.68,229.13 326.9,229.78 329.12,230.42 331.35,231.07 333.57,231.71 335.79,232.36 338.01,233 340.24,233.64 342.46,234.29 344.68,234.93 346.91,235.58 349.13,236.22 351.35,236.87 353.57,236.87 355.8,236.87 358.02,233 360.24,229.13 362.47,225.27 364.69,221.4 366.91,217.53 369.13,213.67 371.36,209.8 373.58,205.93 375.8,202.07 378.03,198.2 380.25,194.33 382.47,190.47 384.69,186.6 386.92,182.73 389.14,178.87 391.36,178.87 393.59,178.87 395.81,175.64 398.03,172.42 400.25,169.2 402.48,165.98 404.7,162.76 406.92,159.53 409.15,156.31 411.37,153.09 413.59,149.87 415.82,146.64 418.04,143.42 420.26,140.2 422.48,136.98 424.71,133.76 426.93,130.53 429.15,130.53 431.38,130.53 433.6,129.89 435.82,129.24 438.04,128.6 440.27,127.96 442.49,127.31 444.71,126.67 446.94,126.02 449.16,125.38 451.38,124.73 453.6,124.09 455.83,123.44 458.05,122.8 460.27,122.16 462.5,121.51 464.72,120.87 466.94,120.87 469.16,120.87 471.39,120.54 473.61,120.22 475.83,119.9 478.06,119.58 480.28,119.26 482.5,118.93 484.73,118.61 486.95,118.29 489.17,117.97 491.39,117.64 493.62,117.32 495.84,117 498.06,116.68 500.29,116.36 502.51,116.03 504.73,116.03 506.95,116.03 509.18,116.36 511.4,116.68 513.62,117 515.85,117.32 518.07,117.64 520.29,117.97 522.51,118.29 524.74,118.61 526.96,118.93 529.18,119.26 531.41,119.58 533.63,119.9 535.85,120.22 538.07,120.54 540.3,120.87 542.52,120.87 544.74,120.87 546.97,124.41 549.19,127.96 551.41,131.5 553.63,135.04 555.86,138.59 558.08,142.13 560.3,145.68 562.53,149.22 564.75,152.77 566.97,156.31 569.2,159.86 571.42,163.4 573.64,166.94 575.86,170.49 578.09,174.03 580.31,174.03 582.53,174.03 584.76,175 586.98,175.97 589.2,176.93 591.42,177.9 593.65,178.87 595.87,179.83 598.09,180.8 600.32,181.77 602.54,182.73 604.76,183.7 606.98,184.67 609.21,185.63 611.43,186.6 613.65,187.57 615.88,188.53 618.1,188.53 620.32,187.57 622.54,186.6 624.77,185.63 626.99,184.67 629.21,183.7 631.44,182.73 633.66,181.77 635.88,180.8 638.11,179.83 640.33,178.87 642.55,177.9 644.77,176.93 647,175.97 649.22,175 651.44,174.03 653.67,174.03 655.89,174.03 658.11,174.03 660.33,174.03 662.56,174.03 664.78,174.03 667,174.03 669.23,174.03 671.45,174.03 673.67,174.03 675.89,174.03 678.12,174.03 680.34,174.03 682.56,174.03 684.79,174.03 687.01,174.03 689.23,174.03 691.45,174.03 693.68,174.03 695.9,174.03 698.12,174.03 700.35,174.03 702.57,174.03 704.79,174.03 707.02,174.03 709.24,174.03 711.46,174.03 713.68,178.22 715.91,182.41 718.13,186.6 720.35,190.79 722.58,194.98 724.8,199.17 727.02,203.36 729.24,207.54 731.47,211.73 733.69,215.92 735.91,220.11 738.14,224.3 740.36,232.36 742.58,240.41 744.8,248.47 747.03,252.33 749.25,256.2 751.47,260.07 753.7,263.93 755.92,267.8 758.14,271.67 760.36,275.53 762.59,279.4 764.81,280.37 767.03,281.33 769.26,282.3 771.48,283.27 773.7,280.37 775.92,277.47 778.15,274.57 780.37,271.67 782.59,268.77 784.82,265.87 787.04,261.36 789.26,256.84 791.49,252.33 793.71,247.82 795.93,243.31 798.15,241.7 800.38,240.09 802.6,238.48 804.82,236.87 807.05,235.9 809.27,234.93 811.49,233.97 813.71,233 815.94,232.03 818.16,231.07 820.38,231.71 822.61,232.36 824.83,232.03 827.05,231.71 829.27,231.39 831.5,231.07 833.72,230.74 835.94,230.42 838.17,230.1 840.39,228.49 842.61,226.88 844.83,225.27 847.06,223.66 849.28,222.04 851.5,220.43 853.73,219.79 855.95,219.14 858.17,219.47 860.4,219.79 862.62,220.11 864.84,219.47 867.06,218.82 869.29,218.18 871.51,217.53 873.73,218.5 875.96,219.47 878.18,220.43 880.4,221.4 882.62,222.37 884.85,223.66"/>
<polyline stroke="#ffa500" points="284.66,209.16 286.89,209.8 289.11,210.44 291.33,211.09 293.56,211.73 295.78,212.38 298,213.02 300.22,213.67 302.45,214.31 304.67,214.96 306.89,215.6 309.12,216.24 311.34,216.89 313.56,217.53 315.78,218.18 318.01,218.82 320.23,219.79 322.45,220.76 324.68,221.72 326.9,222.69 329.12,223.66 331.35,224.62 333.57,225.59 335.79,226.56 338.01,227.52 340.24,228.49 342.46,229.46 344.68,230.42 346.91,231.39 349.13,231.71 351.35,232.03 353.57,232.36 355.8,232.68 358.02,231.07 360.24,229.46 362.47,227.84 364.69,226.23 366.91,224.62 369.13,223.01 371.36,221.4 373.58,219.79 375.8,218.18 378.03,216.57 380.25,214.96 382.47,213.34 384.69,211.73 386.92,209.8 389.14,207.87 391.36,205.93 393.59,204 395.81,200.46 398.03,196.91 400.25,193.37 402.48,189.82 404.7,186.28 406.92,182.73 409.15,179.19 411.37,175.64 413.59,172.1 415.82,168.56 418.04,165.01 420.26,161.47 422.48,157.92 424.71,156.31 426.93,154.7 429.15,153.09 431.38,151.48 433.6,149.54 435.82,147.61 438.04,145.68 440.27,143.74 442.49,141.81 444.71,139.88 446.94,137.94 449.16,136.01 451.38,134.08 453.6,132.14 455.83,130.21 458.05,128.28 460.27,126.34 462.5,126.02 464.72,125.7 466.94,125.38 469.16,125.06 471.39,124.57 473.61,124.09 475.83,123.61 478.06,123.12 480.28,122.64 482.5,122.16 484.73,121.67 486.95,121.19 489.17,120.71 491.39,120.22 493.62,119.74 495.84,119.26 498.06,118.77 500.29,118.61 502.51,118.45 504.73,118.29 506.95,118.13 509.18,118.13 511.4,118.13 513.62,118.13 515.85,118.13 518.07,118.13 520.29,118.13 522.51,118.13 524.74,118.13 526.96,118.13 529.18,118.13 531.41,118.13 533.63,118.13 535.85,118.13 538.07,118.29 540.3,118.45 542.52,118.61 544.74,118.77 546.97,120.71 549.19,122.64 551.41,124.57 553.63,126.51 555.86,128.44 558.08,130.37 560.3,132.31 562.53,134.24 564.75,136.17 566.97,138.11 569.2,140.04 571.42,141.97 573.64,143.91 575.86,145.68 578.09,147.45 580.31,149.22 582.53,150.99 584.76,153.25 586.98,155.51 589.2,157.76 591.42,160.02 593.65,162.27 595.87,164.53 598.09,166.78 600.32,169.04 602.54,171.29 604.76,173.55 606.98,175.81 609.21,178.06 611.43,180.32 613.65,180.8 615.88,181.28 618.1,181.77 620.32,181.77 622.54,181.77 624.77,181.77 626.99,181.77 629.21,181.77 631.44,181.77 633.66,181.77 635.88,181.77 638.11,181.77 640.33,181.77 642.55,181.77 644.77,181.77 647,181.77 649.22,181.77 651.44,181.28 653.67,180.8 655.89,180.32 658.11,179.83 660.33,179.35 662.56,178.87 664.78,178.38 667,177.9 669.23,177.42 671.45,176.93 673.67,176.45 675.89,175.97 678.12,175.48 680.34,175 682.56,174.52 684.79,174.03 687.01,174.03 689.23,174.03 691.45,174.03 693.68,174.03 695.9,174.03 698.12,174.03 700.35,174.03 702.57,174.03 704.79,174.03 707.02,174.03 709.24,174.03 711.46,174.03 713.68,176.13 715.91,178.22 718.13,180.32 720.35,182.41 722.58,184.51 724.8,186.6 727.02,188.69 729.24,190.79 731.47,192.88 733.69,194.98 735.91,197.07 738.14,199.17 740.36,203.19 742.58,207.22 744.8,211.25 747.03,215.28 749.25,219.31 751.47,223.33 753.7,227.36 755.92,231.39 758.14,235.42 760.36,239.44 762.59,243.47 764.81,246.05 767.03,248.63 769.26,251.21 771.48,253.78 773.7,256.36 775.92,258.94 778.15,261.52 780.37,262 782.59,262.48 784.82,262.97 787.04,262.64 789.26,262.32 791.49,262 793.71,261.68 795.93,261.36 798.15,261.03 800.38,260.71 802.6,260.39 804.82,260.07 807.05,258.13 809.27,256.2 811.49,254.27 813.71,252.33 815.94,250.4 818.16,248.47 820.38,246.53 822.61,244.6 824.83,242.18 827.05,239.77 829.27,237.35 831.5,236.38 833.72,235.42 835.94,234.45 838.17,233.48 840.39,232.19 842.61,230.91 844.83,229.62 847.06,228.33 849.28,227.04 851.5,225.75 853.73,225.75 855.95,225.75 858.17,225.75 860.4,225.75 862.62,225.75 864.84,225.27 867.06,224.78 869.29,224.3 871.51,223.82 873.73,223.49 875.96,223.17 878.18,222.85 880.4,222.53 882.62,222.21 884.85,222.04"/>
<polyline stroke="#800080" points="351.35,220.59 353.57,221.08 355.8,221.56 358.02,221.08 360.24,220.59 362.47,220.11 364.69,219.63 366.91,219.14 369.13,218.66 371.36,218.18 373.58,217.69 375.8,217.21 378.03,216.73 380.25,216.24 382.47,215.76 384.69,215.28 386.92,214.79 389.14,214.31 391.36,213.83 393.59,213.34 395.81,212.06 398.03,210.77 400.25,209.48 402.48,208.19 404.7,206.9 406.92,205.61 409.15,204.32 411.37,203.03 413.59,201.74 415.82,200.13 418.04,198.52 420.26,196.91 422.48,195.3 424.71,193.69 426.93,192.08 429.15,190.47 431.38,188.86 433.6,187.08 435.82,185.31 438.04,183.54 440.27,181.77 442.49,179.99 444.71,178.22 446.94,176.45 449.16,174.68 451.38,172.91 453.6,170.97 455.83,169.04 458.05,167.11 460.27,165.17 462.5,163.24 464.72,161.31 466.94,159.37 469.16,157.44 471.39,155.42 473.61,153.41 475.83,151.4 478.06,149.38 480.28,147.37 482.5,145.36 484.73,143.34 486.95,141.33 489.17,139.31 491.39,138.27 493.62,137.22 495.84,136.17 498.06,135.12 500.29,134.08 502.51,133.03 504.73,131.98 506.95,130.94 509.18,129.97 511.4,129 513.62,128.04 515.85,127.07 518.07,126.1 520.29,125.14 522.51,124.17 524.74,123.2 526.96,122.24 529.18,122.07 531.41,121.91 533.63,121.75 535.85,121.59 538.07,121.43 540.3,121.27 542.52,121.11 544.74,120.95 546.97,121.67 549.19,122.4 551.41,123.12 553.63,123.85 555.86,124.57 558.08,125.3 560.3,126.02 562.53,126.75 564.75,127.47 566.97,128.36 569.2,129.24 571.42,130.13 573.64,131.02 575.86,131.9 578.09,132.79 580.31,133.67 582.53,134.56 584.76,135.69 586.98,136.82 589.2,137.94 591.42,139.07 593.65,140.2 595.87,141.33 598.09,142.46 600.32,143.58 602.54,144.71 604.76,145.92 606.98,147.13 609.21,148.34 611.43,149.54 613.65,150.75 615.88,151.96 618.1,153.17 620.32,154.14 622.54,155.1 624.77,156.07 626.99,157.04 629.21,158 631.44,158.97 633.66,159.94 635.88,160.9 638.11,161.87 640.33,162.84 642.55,163.72 644.77,164.61 647,165.49 649.22,166.38 651.44,167.27 653.67,168.15 655.89,169.04 658.11,169.92 660.33,170.81 662.56,171.7 664.78,172.58 667,173.47 669.23,174.36 671.45,175.24 673.67,176.13 675.89,177.01 678.12,177.9 680.34,177.9 682.56,177.9 684.79,177.9 687.01,177.9 689.23,177.9 691.45,177.9 693.68,177.9 695.9,177.9 698.12,177.9 700.35,177.9 702.57,177.9 704.79,177.9 707.02,177.9 709.24,177.9 711.46,177.9 713.68,178.95 715.91,179.99 718.13,180.8 720.35,181.61 722.58,182.41 724.8,183.22 727.02,184.02 729.24,184.83 731.47,185.63 733.69,186.44 735.91,187.24 738.14,188.05 740.36,189.82 742.58,191.59 744.8,193.37 747.03,195.14 749.25,196.91 751.47,198.68 753.7,200.7 755.92,202.71 758.14,204.72 760.36,206.74 762.59,208.75 764.81,210.04 767.03,211.33 769.26,212.62 771.48,213.91 773.7,215.2 775.92,216.49 778.15,217.78 780.37,219.06 782.59,220.35 784.82,221.64 787.04,222.53 789.26,223.41 791.49,224.3 793.71,225.19 795.93,226.07 798.15,226.96 800.38,227.84 802.6,228.73 804.82,229.62 807.05,230.66 809.27,231.71 811.49,232.76 813.71,233.81 815.94,234.85 818.16,235.9 820.38,236.95 822.61,237.99 824.83,238.8 827.05,239.61 829.27,240.41 831.5,241.22 833.72,242.02 835.94,242.83 838.17,243.63 840.39,244.28 842.61,244.92 844.83,245.57 847.06,245.16 849.28,244.76 851.5,244.36 853.73,244.2 855.95,244.04 858.17,243.87 860.4,243.71 862.62,243.55 864.84,243.15 867.06,242.75 869.29,242.34 871.51,241.94 873.73,240.81 875.96,239.69 878.18,238.56 880.4,237.43 882.62,236.3 884.85,235.26"/>
</g>
<g clip-path="url(#cv)">
<rect x="219" y="424" width="3" height="48.5" fill="#1f77b4"/>
<rect x="220" y="425" width="1" height="47.5" fill="#008000"/>
<rect x="221" y="424" width="3" height="48.5" fill="#1f77b4"/>
<rect x="222" y="425" width="1" height="47.5" fill="#008000"/>
<rect x="223" y="424" width="3" height="48.5" fill="#1f77b4"/>
<rect x="224" y="425" width="1" height="47.5" fill="#008000"/>
<rect x="225" y="424" width="3" height="48.5" fill="#1f77b4"/>
<rect x="226" y="425" width="1" height="47.5" fill="#008000"/>
<rect x="228" y="424" width="2" height="48.5" fill="#1f77b4"/>
<rect x="230" y="424" width="3" height="48.5" fill="#1f77b4"/>
<rect x="231" y="425" width="1" height="47.5" fill="#008000"/>
<rect x="232" y="424" width="3" height="48.5" fill="#1f77b4"/>
<rect x="233" y="425" width="1" height="47.5" fill="#008000"/>
<rect x="234" y="424" width="3" height="48.5" fill="#1f77b4"/>
<rect x="235" y="425" width="1" height="47.5" fill="#008000"/>
<rect x="237" y="424" width="2" height="48.5" fill="#1f77b4"/>
<rect x="239" y="424" width="3" height="48.5" fill="#1f77b4"/>
<rect x="240" y="425" width="1" height="47.5" fill="#008000"/>
<rect x="241" y="424" width="3" height="48.5" fill="#1f77b4"/>
<rect x="242" y="425" width="1" height="47.5" fill="#008000"/>
<rect x="243" y="454" width="3" height="18.5" fill="#1f77b4"/>
<rect x="244" y="455" width="1" height="17.5" fill="#ff0000"/>
<rect x="245" y="454" width="3" height="18.5" fill="#1f77b4"/>
<rect x="246" y="455" width="1" height="17.5" fill="#ff0000"/>
<rect x="248" y="454" width="2" height="18.5" fill="#1f77b4"/>
<rect x="250" y="454" width="3" height="18.5" fill="#1f77b4"/>
<rect x="251" y="455" width="1" height="17.5" fill="#ff0000"/>
<rect x="252" y="454" width="3" height="18.5" fill="#1f77b4"/>
<rect x="253" y="455" width="1" height="17.5" fill="#ff0000"/>
<rect x="254" y="454" width="3" height="18.5" fill="#1f77b4"/>
<rect x="255" y="455" width="1" height="17.5" fill="#ff0000"/>
<rect x="257" y="454" width="2" height="18.5" fill="#1f77b4"/>
<rect x="259" y="454" width="3" height="18.5" fill="#1f77b4"/>
<rect x="260" y="455" width="1" height="17.5" fill="#ff0000"/>
<rect x="261" y="454" width="3" height="18.5" fill="#1f77b4"/>
<rect x="262" y="455" width="1" height="17.5" fill="#ff0000"/>
<rect x="263" y="454" width="3" height="18.5" fill="#1f77b4"/>
<rect x="264" y="455" width="1" height="17.5" fill="#ff0000"/>
<rect x="265" y="454" width="3" height="18.5" fill="#1f77b4"/>
<rect x="266" y="455" width="1" height="17.5" fill="#ff0000"/>
<rect x="268" y="454" width="3" height="18.5" fill="#1f77b4"/>
<rect x="270" y="454" width="3" height="18.5" fill="#1f77b4"/>
<rect x="271" y="455" width="1" height="17.5" fill="#ff0000"/>
<rect x="272" y="454" width="3" height="18.5" fill="#1f77b4"/>
<rect x="273" y="455" width="1" height="17.5" fill="#ff0000"/>
<rect x="274" y="454" width="3" height="18.5" fill="#1f77b4"/>
<rect x="275" y="455" width="1" height="17.5" fill="#ff0000"/>
<rect x="277" y="454" width="2" height="18.5" fill="#1f77b4"/>
<rect x="279" y="454" width="3" height="18.5" fill="#1f77b4"/>
<rect x="280" y="455" width="1" height="17.5" fill="#ff0000"/>
<rect x="281" y="449" width="3" height="23.5" fill="#1f77b4"/>
<rect x="282" y="450" width="1" height="22.5" fill="#ff0000"/>
<rect x="283" y="449" width="3" height="23.5" fill="#1f77b4"/>
<rect x="284" y="450" width="1" height="22.5" fill="#ff0000"/>
<rect x="285" y="449" width="3" height="23.5" fill="#1f77b4"/>
<rect x="286" y="450" width="1" height="22.5" fill="#ff0000"/>
<rect x="288" y="449" width="3" height="23.5" fill="#1f77b4"/>
<rect x="290" y="449" width="3" height="23.5" fill="#1f77b4"/>
<rect x="291" y="450" width="1" height="22.5" fill="#ff0000"/>
<rect x="292" y="449" width="3" height="23.5" fill="#1f77b4"/>
<rect x="293" y="450" width="1" height="22.5" fill="#ff0000"/>
<rect x="294" y="449" width="3" height="23.5" fill="#1f77b4"/>
<rect x="295" y="450" width="1" height="22.5" fill="#ff0000"/>
<rect x="297" y="449" width="2" height="23.5" fill="#1f77b4"/>
<rect x="299" y="449" width="3" height="23.5" fill="#1f77b4"/>
<rect x="300" y="450" width="1" height="22.5" fill="#ff0000"/>
<rect x="301" y="449" width="3" height="23.5" fill="#1f77b4"/>
<rect x="302" y="450" width="1" height="22.5" fill="#ff0000"/>
<rect x="303" y="449" width="3" height="23.5" fill="#1f77b4"/>
<rect x="304" y="450" width="1" height="22.5" fill="#ff0000"/>
<rect x="305" y="449" width="3" height="23.5" fill="#1f77b4"/>
<rect x="306" y="450" width="1" height="22.5" fill="#ff0000"/>
<rect x="308" y="449" width="3" height="23.5" fill="#1f77b4"/>
<rect x="310" y="449" width="3" height="23.5" fill="#1f77b4"/>
<rect x="311" y="450" width="1" height="22.5" fill="#ff0000"/>
<rect x="312" y="449" width="3" height="23.5" fill="#1f77b4"/>
<rect x="313" y="450" width="1" height="22.5" fill="#ff0000"/>
<rect x="314" y="449" width="3" height="23.5" fill="#1f77b4"/>
<rect x="315" y="450" width="1" height="22.5" fill="#ff0000"/>
<rect x="317" y="449" width="2" height="23.5" fill="#1f77b4"/>
<rect x="319" y="425" width="3" height="47.5" fill="#1f77b4"/>
<rect x="320" y="426" width="1" height="46.5" fill="#ff0000"/>
<rect x="321" y="425" width="3" height="47.5" fill="#1f77b4"/>
<rect x="322" y="426" width="1" height="46.5" fill="#ff0000"/>
<rect x="323" y="425" width="3" height="47.5" fill="#1f77b4"/>
<rect x="324" y="426" width="1" height="46.5" fill="#ff0000"/>
<rect x="325" y="425" width="3" height="47.5" fill="#1f77b4"/>
<rect x="326" y="426" width="1" height="46.5" fill="#ff0000"/>
<rect x="328" y="425" width="3" height="47.5" fill="#1f77b4"/>
<rect x="329" y="426" width="1" height="46.5" fill="#ff0000"/>
<rect x="330" y="425" width="3" height="47.5" fill="#1f77b4"/>
<rect x="331" y="426" width="1" height="46.5" fill="#ff0000"/>
<rect x="332" y="425" width="3" height="47.5" fill="#1f77b4"/>
<rect x="333" y="426" width="1" height="46.5" fill="#ff0000"/>
<rect x="334" y="425" width="3" height="47.5" fill="#1f77b4"/>
<rect x="335" y="426" width="1" height="46.5" fill="#ff0000"/>
<rect x="337" y="425" width="2" height="47.5" fill="#1f77b4"/>
<rect x="339" y="425" width="3" height="47.5" fill="#1f77b4"/>
<rect x="340" y="426" width="1" height="46.5" fill="#ff0000"/>
<rect x="341" y="425" width="3" height="47.5" fill="#1f77b4"/>
<rect x="342" y="426" width="1" height="46.5" fill="#ff0000"/>
<rect x="343" y="425" width="3" height="47.5" fill="#1f77b4"/>
<rect x="344" y="426" width="1" height="46.5" fill="#ff0000"/>
<rect x="346" y="425" width="2" height="47.5" fill="#1f77b4"/>
<rect x="346" y="426" width="1" height="46.5" fill="#ff0000"/>
<rect x="348" y="425" width="3" height="47.5" fill="#1f77b4"/>
<rect x="349" y="426" width="1" height="46.5" fill="#ff0000"/>
<rect x="350" y="425" width="3" height="47.5" fill="#1f77b4"/>
<rect x="351" y="426" width="1" height="46.5" fill="#ff0000"/>
<rect x="352" y="425" width="3" height="47.5" fill="#1f77b4"/>
<rect x="353" y="426" width="1" height="46.5" fill="#ff0000"/>
<rect x="354" y="425" width="3" height="47.5" fill="#1f77b4"/>
<rect x="355" y="426" width="1" height="46.5" fill="#ff0000"/>
<rect x="357" y="424" width="2" height="48.5" fill="#1f77b4"/>
<rect x="359" y="424" width="3" height="48.5" fill="#1f77b4"/>
<rect x="360" y="425" width="1" height="47.5" fill="#008000"/>
<rect x="361" y="424" width="3" height="48.5" fill="#1f77b4"/>
<rect x="362" y="425" width="1" height="47.5" fill="#008000"/>
<rect x="363" y="424" width="3" height="48.5" fill="#1f77b4"/>
<rect x="364" y="425" width="1" height="47.5" fill="#008000"/>
<rect x="366" y="424" width="2" height="48.5" fill="#1f77b4"/>
<rect x="366" y="425" width="1" height="47.5" fill="#008000"/>
<rect x="368" y="424" width="3" height="48.5" fill="#1f77b4"/>
<rect x="369" y="425" width="1" height="47.5" fill="#008000"/>
<rect x="370" y="424" width="3" height="48.5" fill="#1f77b4"/>
<rect x="371" y="425" width="1" height="47.5" fill="#008000"/>
<rect x="372" y="424" width="3" height="48.5" fill="#1f77b4"/>
<rect x="373" y="425" width="1" height="47.5" fill="#008000"/>
<rect x="374" y="424" width="3" height="48.5" fill="#1f77b4"/>
<rect x="375" y="425" width="1" height="47.5" fill="#008000"/>
<rect x="377" y="424" width="2" height="48.5" fill="#1f77b4"/>
<rect x="379" y="424" width="3" height="48.5" fill="#1f77b4"/>
<rect x="380" y="425" width="1" height="47.5" fill="#008000"/>
<rect x="381" y="424" width="3" height="48.5" fill="#1f77b4"/>
<rect x="382" y="425" width="1" height="47.5" fill="#008000"/>
<rect x="383" y="424" width="3" height="48.5" fill="#1f77b4"/>
<rect x="384" y="425" width="1" height="47.5" fill="#008000"/>
<rect x="386" y="424" width="2" height="48.5" fill="#1f77b4"/>
<rect x="386" y="425" width="1" height="47.5" fill="#008000"/>
<rect x="388" y="424" width="3" height="48.5" fill="#1f77b4"/>
<rect x="389" y="425" width="1" height="47.5" fill="#008000"/>
<rect x="390" y="424" width="3" height="48.5" fill="#1f77b4"/>
<rect x="391" y="425" width="1" height="47.5" fill="#008000"/>
<rect x="392" y="424" width="3" height="48.5" fill="#1f77b4"/>
<rect x="393" y="425" width="1" height="47.5" fill="#008000"/>
<rect x="394" y="411" width="3" height="61.5" fill="#1f77b4"/>
<rect x="395" y="412" width="1" height="60.5" fill="#008000"/>
<rect x="397" y="411" width="2" height="61.5" fill="#1f77b4"/>
<rect x="399" y="411" width="3" height="61.5" fill="#1f77b4"/>
<rect x="400" y="412" width="1" height="60.5" fill="#008000"/>
<rect x="401" y="411" width="3" height="61.5" fill="#1f77b4"/>
<rect x="402" y="412" width="1" height="60.5" fill="#008000"/>
<rect x="403" y="411" width="3" height="61.5" fill="#1f77b4"/>
<rect x="404" y="412" width="1" height="60.5" fill="#008000"/>
<rect x="406" y="411" width="2" height="61.5" fill="#1f77b4"/>
<rect x="406" y="412" width="1" height="60.5" fill="#008000"/>
<rect x="408" y="411" width="3" height="61.5" fill="#1f77b4"/>
<rect x="409" y="412" width="1" height="60.5" fill="#008000"/>
<rect x="410" y="411" width="3" height="61.5" fill="#1f77b4"/>
<rect x="411" y="412" width="1" height="60.5" fill="#008000"/>
<rect x="412" y="411" width="3" height="61.5" fill="#1f77b4"/>
<rect x="413" y="412" width="1" height="60.5" fill="#008000"/>
<rect x="414" y="411" width="3" height="61.5" fill="#1f77b4"/>
<rect x="415" y="412" width="1" height="60.5" fill="#008000"/>
<rect x="417" y="411" width="2" height="61.5" fill="#1f77b4"/>
<rect x="419" y="411" width="3" height="61.5" fill="#1f77b4"/>
<rect x="420" y="412" width="1" height="60.5" fill="#008000"/>
<rect x="421" y="411" width="3" height="61.5" fill="#1f77b4"/>
<rect x="422" y="412" width="1" height="60.5" fill="#008000"/>
<rect x="423" y="411" width="3" height="61.5" fill="#1f77b4"/>
<rect x="424" y="412" width="1" height="60.5" fill="#008000"/>
<rect x="426" y="411" width="2" height="61.5" fill="#1f77b4"/>
<rect x="426" y="412" width="1" height="60.5" fill="#008000"/>
<rect x="428" y="411" width="3" height="61.5" fill="#1f77b4"/>
<rect x="429" y="412" width="1" height="60.5" fill="#008000"/>
<rect x="430" y="411" width="3" height="61.5" fill="#1f77b4"/>
<rect x="431" y="412" width="1" height="60.5" fill="#008000"/>
<rect x="432" y="419" width="3" height="53.5" fill="#1f77b4"/>
<rect x="433" y="420" width="1" height="52.5" fill="#008000"/>
<rect x="434" y="419" width="3" height="53.5" fill="#1f77b4"/>
<rect x="435" y="420" width="1" height="52.5" fill="#008000"/>
<rect x="437" y="419" width="2" height="53.5" fill="#1f77b4"/>
<rect x="439" y="419" width="3" height="53.5" fill="#1f77b4"/>
<rect x="440" y="420" width="1" height="52.5" fill="#008000"/>
<rect x="441" y="419" width="3" height="53.5" fill="#1f77b4"/>
<rect x="442" y="420" width="1" height="52.5" fill="#008000"/>
<rect x="443" y="419" width="3" height="53.5" fill="#1f77b4"/>
<rect x="444" y="420" width="1" height="52.5" fill="#008000"/>
<rect x="446" y="419" width="2" height="53.5" fill="#1f77b4"/>
<rect x="446" y="420" width="1" height="52.5" fill="#008000"/>
<rect x="448" y="419" width="3" height="53.5" fill="#1f77b4"/>
<rect x="449" y="420" width="1" height="52.5" fill="#008000"/>
<rect x="450" y="419" width="3" height="53.5" fill="#1f77b4"/>
<rect x="451" y="420" width="1" height="52.5" fill="#008000"/>
<rect x="452" y="419" width="3" height="53.5" fill="#1f77b4"/>
<rect x="453" y="420" width="1" height="52.5" fill="#008000"/>
<rect x="454" y="419" width="3" height="53.5" fill="#1f77b4"/>
<rect x="455" y="420" width="1" height="52.5" fill="#008000"/>
<rect x="457" y="419" width="2" height="53.5" fill="#1f77b4"/>
<rect x="459" y="419" width="3" height="53.5" fill="#1f77b4"/>
<rect x="460" y="420" width="1" height="52.5" fill="#008000"/>
<rect x="461" y="419" width="3" height="53.5" fill="#1f77b4"/>
<rect x="462" y="420" width="1" height="52.5" fill="#008000"/>
<rect x="463" y="419" width="3" height="53.5" fill="#1f77b4"/>
<rect x="464" y="420" width="1" height="52.5" fill="#008000"/>
<rect x="466" y="419" width="2" height="53.5" fill="#1f77b4"/>
<rect x="466" y="420" width="1" height="52.5" fill="#008000"/>
<rect x="468" y="419" width="3" height="53.5" fill="#1f77b4"/>
<rect x="469" y="420" width="1" height="52.5" fill="#008000"/>
<rect x="470" y="452" width="3" height="20.5" fill="#1f77b4"/>
<rect x="471" y="453" width="1" height="19.5" fill="#ff0000"/>
<rect x="472" y="452" width="3" height="20.5" fill="#1f77b4"/>
<rect x="473" y="453" width="1" height="19.5" fill="#ff0000"/>
<rect x="474" y="452" width="3" height="20.5" fill="#1f77b4"/>
<rect x="475" y="453" width="1" height="19.5" fill="#ff0000"/>
<rect x="477" y="452" width="2" height="20.5" fill="#1f77b4"/>
<rect x="479" y="452" width="3" height="20.5" fill="#1f77b4"/>
<rect x="480" y="453" width="1" height="19.5" fill="#ff0000"/>
<rect x="481" y="452" width="3" height="20.5" fill="#1f77b4"/>
<rect x="482" y="453" width="1" height="19.5" fill="#ff0000"/>
<rect x="483" y="452" width="3" height="20.5" fill="#1f77b4"/>
<rect x="484" y="453" width="1" height="19.5" fill="#ff0000"/>
<rect x="486" y="452" width="2" height="20.5" fill="#1f77b4"/>
<rect x="486" y="453" width="1" height="19.5" fill="#ff0000"/>
<rect x="488" y="452" width="3" height="20.5" fill="#1f77b4"/>
<rect x="489" y="453" width="1" height="19.5" fill="#ff0000"/>
<rect x="490" y="452" width="3" height="20.5" fill="#1f77b4"/>
<rect x="491" y="453" width="1" height="19.5" fill="#ff0000"/>
<rect x="492" y="452" width="3" height="20.5" fill="#1f77b4"/>
<rect x="493" y="453" width="1" height="19.5" fill="#ff0000"/>
<rect x="494" y="452" width="3" height="20.5" fill="#1f77b4"/>
<rect x="495" y="453" width="1" height="19.5" fill="#ff0000"/>
<rect x="497" y="452" width="2" height="20.5" fill="#1f77b4"/>
<rect x="499" y="452" width="3" height="20.5" fill="#1f77b4"/>
<rect x="500" y="453" width="1" height="19.5" fill="#ff0000"/>
<rect x="501" y="452" width="3" height="20.5" fill="#1f77b4"/>
<rect x="502" y="453" width="1" height="19.5" fill="#ff0000"/>
<rect x="503" y="452" width="3" height="20.5" fill="#1f77b4"/>
<rect x="504" y="453" width="1" height="19.5" fill="#ff0000"/>
<rect x="506" y="452" width="2" height="20.5" fill="#1f77b4"/>
<rect x="508" y="453" width="3" height="19.5" fill="#1f77b4"/>
<rect x="509" y="454" width="1" height="18.5" fill="#ff0000"/>
<rect x="510" y="453" width="3" height="19.5" fill="#1f77b4"/>
<rect x="511" y="454" width="1" height="18.5" fill="#ff0000"/>
<rect x="512" y="453" width="3" height="19.5" fill="#1f77b4"/>
<rect x="513" y="454" width="1" height="18.5" fill="#ff0000"/>
<rect x="514" y="453" width="3" height="19.5" fill="#1f77b4"/>
<rect x="515" y="454" width="1" height="18.5" fill="#ff0000"/>
<rect x="517" y="453" width="2" height="19.5" fill="#1f77b4"/>
<rect x="519" y="453" width="3" height="19.5" fill="#1f77b4"/>
<rect x="520" y="454" width="1" height="18.5" fill="#ff0000"/>
<rect x="521" y="453" width="3" height="19.5" fill="#1f77b4"/>
<rect x="522" y="454" width="1" height="18.5" fill="#ff0000"/>
<rect x="523" y="453" width="3" height="19.5" fill="#1f77b4"/>
<rect x="524" y="454" width="1" height="18.5" fill="#ff0000"/>
<rect x="526" y="453" width="2" height="19.5" fill="#1f77b4"/>
<rect x="528" y="453" width="3" height="19.5" fill="#1f77b4"/>
<rect x="529" y="454" width="1" height="18.5" fill="#ff0000"/>
<rect x="530" y="453" width="3" height="19.5" fill="#1f77b4"/>
<rect x="531" y="454" width="1" height="18.5" fill="#ff0000"/>
<rect x="532" y="453" width="3" height="19.5" fill="#1f77b4"/>
<rect x="533" y="454" width="1" height="18.5" fill="#ff0000"/>
<rect x="534" y="453" width="3" height="19.5" fill="#1f77b4"/>
<rect x="535" y="454" width="1" height="18.5" fill="#ff0000"/>
<rect x="537" y="453" width="2" height="19.5" fill="#1f77b4"/>
<rect x="539" y="453" width="3" height="19.5" fill="#1f77b4"/>
<rect x="540" y="454" width="1" height="18.5" fill="#ff0000"/>
<rect x="541" y="453" width="3" height="19.5" fill="#1f77b4"/>
<rect x="542" y="454" width="1" height="18.5" fill="#ff0000"/>
<rect x="543" y="453" width="3" height="19.5" fill="#1f77b4"/>
<rect x="544" y="454" width="1" height="18.5" fill="#ff0000"/>
<rect x="546" y="448" width="2" height="24.5" fill="#1f77b4"/>
<rect x="548" y="448" width="3" height="24.5" fill="#1f77b4"/>
<rect x="549" y="449" width="1" height="23.5" fill="#ff0000"/>
<rect x="550" y="448" width="3" height="24.5" fill="#1f77b4"/>
<rect x="551" y="449" width="1" height="23.5" fill="#ff0000"/>
<rect x="552" y="448" width="3" height="24.5" fill="#1f77b4"/>
<rect x="553" y="449" width="1" height="23.5" fill="#ff0000"/>
<rect x="554" y="448" width="3" height="24.5" fill="#1f77b4"/>
<rect x="555" y="449" width="1" height="23.5" fill="#ff0000"/>
<rect x="557" y="448" width="2" height="24.5" fill="#1f77b4"/>
<rect x="559" y="448" width="3" height="24.5" fill="#1f77b4"/>
<rect x="560" y="449" width="1" height="23.5" fill="#ff0000"/>
<rect x="561" y="448" width="3" height="24.5" fill="#1f77b4"/>
<rect x="562" y="449" width="1" height="23.5" fill="#ff0000"/>
<rect x="563" y="448" width="3" height="24.5" fill="#1f77b4"/>
<rect x="564" y="449" width="1" height="23.5" fill="#ff0000"/>
<rect x="566" y="448" width="2" height="24.5" fill="#1f77b4"/>
<rect x="568" y="448" width="3" height="24.5" fill="#1f77b4"/>
<rect x="569" y="449" width="1" height="23.5" fill="#ff0000"/>
<rect x="570" y="448" width="3" height="24.5" fill="#1f77b4"/>
<rect x="571" y="449" width="1" height="23.5" fill="#ff0000"/>
<rect x="572" y="448" width="3" height="24.5" fill="#1f77b4"/>
<rect x="573" y="449" width="1" height="23.5" fill="#ff0000"/>
<rect x="574" y="448" width="3" height="24.5" fill="#1f77b4"/>
<rect x="575" y="449" width="1" height="23.5" fill="#ff0000"/>
<rect x="577" y="448" width="2" height="24.5" fill="#1f77b4"/>
<rect x="579" y="448" width="3" height="24.5" fill="#1f77b4"/>
<rect x="580" y="449" width="1" height="23.5" fill="#ff0000"/>
<rect x="581" y="448" width="3" height="24.5" fill="#1f77b4"/>
<rect x="582" y="449" width="1" height="23.5" fill="#ff0000"/>
<rect x="583" y="452" width="3" height="20.5" fill="#1f77b4"/>
<rect x="584" y="453" width="1" height="19.5" fill="#ff0000"/>
<rect x="586" y="452" width="2" height="20.5" fill="#1f77b4"/>
<rect x="588" y="452" width="3" height="20.5" fill="#1f77b4"/>
<rect x="589" y="453" width="1" height="19.5" fill="#ff0000"/>
<rect x="590" y="452" width="3" height="20.5" fill="#1f77b4"/>
<rect x="591" y="453" width="1" height="19.5" fill="#ff0000"/>
<rect x="592" y="452" width="3" height="20.5" fill="#1f77b4"/>
<rect x="593" y="453" width="1" height="19.5" fill="#ff0000"/>
<rect x="594" y="452" width="3" height="20.5" fill="#1f77b4"/>
<rect x="595" y="453" width="1" height="19.5" fill="#ff0000"/>
<rect x="597" y="452" width="2" height="20.5" fill="#1f77b4"/>
<rect x="599" y="452" width="3" height="20.5" fill="#1f77b4"/>
<rect x="600" y="453" width="1" height="19.5" fill="#ff0000"/>
<rect x="601" y="452" width="3" height="20.5" fill="#1f77b4"/>
<rect x="602" y="453" width="1" height="19.5" fill="#ff0000"/>
<rect x="603" y="452" width="3" height="20.5" fill="#1f77b4"/>
<rect x="604" y="453" width="1" height="19.5" fill="#ff0000"/>
<rect x="606" y="452" width="2" height="20.5" fill="#1f77b4"/>
<rect x="608" y="452" width="3" height="20.5" fill="#1f77b4"/>
<rect x="609" y="453" width="1" height="19.5" fill="#ff0000"/>
<rect x="610" y="452" width="3" height="20.5" fill="#1f77b4"/>
<rect x="611" y="453" width="1" height="19.5" fill="#ff0000"/>
<rect x="612" y="452" width="3" height="20.5" fill="#1f77b4"/>
<rect x="613" y="453" width="1" height="19.5" fill="#ff0000"/>
<rect x="614" y="452" width="3" height="20.5" fill="#1f77b4"/>
<rect x="615" y="453" width="1" height="19.5" fill="#ff0000"/>
<rect x="617" y="452" width="2" height="20.5" fill="#1f77b4"/>
<rect x="619" y="445" width="3" height="27.5" fill="#1f77b4"/>
<rect x="620" y="446" width="1" height="26.5" fill="#ff0000"/>
<rect x="621" y="445" width="3" height="27.5" fill="#1f77b4"/>
<rect x="622" y="446" width="1" height="26.5" fill="#ff0000"/>
<rect x="623" y="445" width="3" height="27.5" fill="#1f77b4"/>
<rect x="624" y="446" width="1" height="26.5" fill="#ff0000"/>
<rect x="626" y="445" width="2" height="27.5" fill="#1f77b4"/>
<rect x="628" y="445" width="3" height="27.5" fill="#1f77b4"/>
<rect x="629" y="446" width="1" height="26.5" fill="#ff0000"/>
<rect x="630" y="445" width="3" height="27.5" fill="#1f77b4"/>
<rect x="631" y="446" width="1" height="26.5" fill="#ff0000"/>
<rect x="632" y="445" width="3" height="27.5" fill="#1f77b4"/>
<rect x="633" y="446" width="1" height="26.5" fill="#ff0000"/>
<rect x="634" y="445" width="3" height="27.5" fill="#1f77b4"/>
<rect x="635" y="446" width="1" height="26.5" fill="#ff0000"/>
<rect x="637" y="445" width="3" height="27.5" fill="#1f77b4"/>
<rect x="639" y="445" width="3" height="27.5" fill="#1f77b4"/>
<rect x="640" y="446" width="1" height="26.5" fill="#ff0000"/>
<rect x="641" y="445" width="3" height="27.5" fill="#1f77b4"/>
<rect x="642" y="446" width="1" height="26.5" fill="#ff0000"/>
<rect x="643" y="445" width="3" height="27.5" fill="#1f77b4"/>
<rect x="644" y="446" width="1" height="26.5" fill="#ff0000"/>
<rect x="646" y="445" width="2" height="27.5" fill="#1f77b4"/>
<rect x="648" y="445" width="3" height="27.5" fill="#1f77b4"/>
<rect x="649" y="446" width="1" height="26.5" fill="#ff0000"/>
<rect x="650" y="445" width="3" height="27.5" fill="#1f77b4"/>
<rect x="651" y="446" width="1" height="26.5" fill="#ff0000"/>
<rect x="652" y="438" width="3" height="34.5" fill="#1f77b4"/>
<rect x="653" y="439" width="1" height="33.5" fill="#ff0000"/>
<rect x="654" y="438" width="3" height="34.5" fill="#1f77b4"/>
<rect x="655" y="439" width="1" height="33.5" fill="#ff0000"/>
<rect x="657" y="438" width="3" height="34.5" fill="#1f77b4"/>
<rect x="659" y="438" width="3" height="34.5" fill="#1f77b4"/>
<rect x="660" y="439" width="1" height="33.5" fill="#ff0000"/>
<rect x="661" y="438" width="3" height="34.5" fill="#1f77b4"/>
<rect x="662" y="439" width="1" height="33.5" fill="#ff0000"/>
<rect x="663" y="438" width="3" height="34.5" fill="#1f77b4"/>
<rect x="664" y="439" width="1" height="33.5" fill="#ff0000"/>
<rect x="666" y="438" width="2" height="34.5" fill="#1f77b4"/>
<rect x="668" y="438" width="3" height="34.5" fill="#1f77b4"/>
<rect x="669" y="439" width="1" height="33.5" fill="#ff0000"/>
<rect x="670" y="438" width="3" height="34.5" fill="#1f77b4"/>
<rect x="671" y="439" width="1" height="33.5" fill="#ff0000"/>
<rect x="672" y="438" width="3" height="34.5" fill="#1f77b4"/>
<rect x="673" y="439" width="1" height="33.5" fill="#ff0000"/>
<rect x="674" y="438" width="3" height="34.5" fill="#1f77b4"/>
<rect x="675" y="439" width="1" height="33.5" fill="#ff0000"/>
<rect x="677" y="438" width="3" height="34.5" fill="#1f77b4"/>
<rect x="679" y="438" width="3" height="34.5" fill="#1f77b4"/>
<rect x="680" y="439" width="1" height="33.5" fill="#ff0000"/>
<rect x="681" y="438" width="3" height="34.5" fill="#1f77b4"/>
<rect x="682" y="439" width="1" height="33.5" fill="#ff0000"/>
<rect x="683" y="462" width="3" height="10.5" fill="#1f77b4"/>
<rect x="684" y="463" width="1" height="9.5" fill="#ff0000"/>
<rect x="686" y="462" width="2" height="10.5" fill="#1f77b4"/>
<rect x="688" y="462" width="3" height="10.5" fill="#1f77b4"/>
<rect x="689" y="463" width="1" height="9.5" fill="#ff0000"/>
<rect x="690" y="462" width="3" height="10.5" fill="#1f77b4"/>
<rect x="691" y="463" width="1" height="9.5" fill="#ff0000"/>
<rect x="692" y="462" width="3" height="10.5" fill="#1f77b4"/>
<rect x="693" y="463" width="1" height="9.5" fill="#ff0000"/>
<rect x="695" y="462" width="2" height="10.5" fill="#1f77b4"/>
<rect x="695" y="463" width="1" height="9.5" fill="#ff0000"/>
<rect x="697" y="462" width="3" height="10.5" fill="#1f77b4"/>
<rect x="698" y="463" width="1" height="9.5" fill="#ff0000"/>
<rect x="699" y="462" width="3" height="10.5" fill="#1f77b4"/>
<rect x="700" y="463" width="1" height="9.5" fill="#ff0000"/>
<rect x="701" y="462" width="3" height="10.5" fill="#1f77b4"/>
<rect x="702" y="463" width="1" height="9.5" fill="#ff0000"/>
<rect x="703" y="462" width="3" height="10.5" fill="#1f77b4"/>
<rect x="704" y="463" width="1" height="9.5" fill="#ff0000"/>
<rect x="706" y="462" width="2" height="10.5" fill="#1f77b4"/>
<rect x="708" y="462" width="3" height="10.5" fill="#1f77b4"/>
<rect x="709" y="463" width="1" height="9.5" fill="#ff0000"/>
<rect x="710" y="462" width="3" height="10.5" fill="#1f77b4"/>
<rect x="711" y="463" width="1" height="9.5" fill="#ff0000"/>
<rect x="712" y="406" width="3" height="66.5" fill="#1f77b4"/>
<rect x="713" y="407" width="1" height="65.5" fill="#ff0000"/>
<rect x="715" y="406" width="2" height="66.5" fill="#1f77b4"/>
<rect x="715" y="407" width="1" height="65.5" fill="#ff0000"/>
<rect x="717" y="406" width="3" height="66.5" fill="#1f77b4"/>
<rect x="718" y="407" width="1" height="65.5" fill="#ff0000"/>
<rect x="719" y="406" width="3" height="66.5" fill="#1f77b4"/>
<rect x="720" y="407" width="1" height="65.5" fill="#ff0000"/>
<rect x="721" y="406" width="3" height="66.5" fill="#1f77b4"/>
<rect x="722" y="407" width="1" height="65.5" fill="#ff0000"/>
<rect x="723" y="406" width="3" height="66.5" fill="#1f77b4"/>
<rect x="724" y="407" width="1" height="65.5" fill="#ff0000"/>
<rect x="726" y="406" width="2" height="66.5" fill="#1f77b4"/>
<rect x="728" y="406" width="3" height="66.5" fill="#1f77b4"/>
<rect x="729" y="407" width="1" height="65.5" fill="#ff0000"/>
<rect x="730" y="406" width="3" height="66.5" fill="#1f77b4"/>
<rect x="731" y="407" width="1" height="65.5" fill="#ff0000"/>
<rect x="732" y="406" width="3" height="66.5" fill="#1f77b4"/>
<rect x="733" y="407" width="1" height="65.5" fill="#ff0000"/>
<rect x="735" y="406" width="2" height="66.5" fill="#1f77b4"/>
<rect x="735" y="407" width="1" height="65.5" fill="#ff0000"/>
<rect x="737" y="406" width="3" height="66.5" fill="#1f77b4"/>
<rect x="738" y="407" width="1" height="65.5" fill="#ff0000"/>
<rect x="739" y="367" width="3" height="105.5" fill="#1f77b4"/>
<rect x="740" y="368" width="1" height="104.5" fill="#008000"/>
<rect x="741" y="367" width="3" height="105.5" fill="#1f77b4"/>
<rect x="742" y="368" width="1" height="104.5" fill="#008000"/>
<rect x="743" y="367" width="3" height="105.5" fill="#1f77b4"/>
<rect x="744" y="368" width="1" height="104.5" fill="#008000"/>
<rect x="746" y="367" width="2" height="105.5" fill="#1f77b4"/>
<rect x="748" y="367" width="3" height="105.5" fill="#1f77b4"/>
<rect x="749" y="368" width="1" height="104.5" fill="#008000"/>
<rect x="750" y="367" width="3" height="105.5" fill="#1f77b4"/>
<rect x="751" y="368" width="1" height="104.5" fill="#008000"/>
<rect x="752" y="367" width="3" height="105.5" fill="#1f77b4"/>
<rect x="753" y="368" width="1" height="104.5" fill="#008000"/>
<rect x="755" y="367" width="2" height="105.5" fill="#1f77b4"/>
<rect x="755" y="368" width="1" height="104.5" fill="#008000"/>
<rect x="757" y="367" width="3" height="105.5" fill="#1f77b4"/>
<rect x="758" y="368" width="1" height="104.5" fill="#008000"/>
<rect x="759" y="367" width="3" height="105.5" fill="#1f77b4"/>
<rect x="760" y="368" width="1" height="104.5" fill="#008000"/>
<rect x="761" y="367" width="3" height="105.5" fill="#1f77b4"/>
<rect x="762" y="368" width="1" height="104.5" fill="#008000"/>
<rect x="763" y="432" width="3" height="40.5" fill="#1f77b4"/>
<rect x="764" y="433" width="1" height="39.5" fill="#008000"/>
<rect x="766" y="432" width="2" height="40.5" fill="#1f77b4"/>
<rect x="768" y="432" width="3" height="40.5" fill="#1f77b4"/>
<rect x="769" y="433" width="1" height="39.5" fill="#008000"/>
<rect x="770" y="432" width="3" height="40.5" fill="#1f77b4"/>
<rect x="771" y="433" width="1" height="39.5" fill="#008000"/>
<rect x="772" y="432" width="3" height="40.5" fill="#1f77b4"/>
<rect x="773" y="433" width="1" height="39.5" fill="#008000"/>
<rect x="775" y="432" width="2" height="40.5" fill="#1f77b4"/>
<rect x="775" y="433" width="1" height="39.5" fill="#008000"/>
<rect x="777" y="432" width="3" height="40.5" fill="#1f77b4"/>
<rect x="778" y="433" width="1" height="39.5" fill="#008000"/>
<rect x="779" y="432" width="3" height="40.5" fill="#1f77b4"/>
<rect x="780" y="433" width="1" height="39.5" fill="#008000"/>
<rect x="781" y="432" width="3" height="40.5" fill="#1f77b4"/>
<rect x="782" y="433" width="1" height="39.5" fill="#008000"/>
<rect x="783" y="432" width="3" height="40.5" fill="#1f77b4"/>
<rect x="784" y="433" width="1" height="39.5" fill="#008000"/>
<rect x="786" y="423" width="2" height="49.5" fill="#1f77b4"/>
<rect x="788" y="423" width="3" height="49.5" fill="#1f77b4"/>
<rect x="789" y="424" width="1" height="48.5" fill="#008000"/>
<rect x="790" y="423" width="3" height="49.5" fill="#1f77b4"/>
<rect x="791" y="424" width="1" height="48.5" fill="#008000"/>
<rect x="792" y="423" width="3" height="49.5" fill="#1f77b4"/>
<rect x="793" y="424" width="1" height="48.5" fill="#008000"/>
<rect x="795" y="423" width="2" height="49.5" fill="#1f77b4"/>
<rect x="795" y="424" width="1" height="48.5" fill="#008000"/>
<rect x="797" y="423" width="3" height="49.5" fill="#1f77b4"/>
<rect x="798" y="424" width="1" height="48.5" fill="#008000"/>
<rect x="799" y="423" width="3" height="49.5" fill="#1f77b4"/>
<rect x="800" y="424" width="1" height="48.5" fill="#008000"/>
<rect x="801" y="423" width="3" height="49.5" fill="#1f77b4"/>
<rect x="802" y="424" width="1" height="48.5" fill="#008000"/>
<rect x="803" y="423" width="3" height="49.5" fill="#1f77b4"/>
<rect x="804" y="424" width="1" height="48.5" fill="#008000"/>
<rect x="806" y="433" width="2" height="39.5" fill="#1f77b4"/>
<rect x="808" y="433" width="3" height="39.5" fill="#1f77b4"/>
<rect x="809" y="434" width="1" height="38.5" fill="#ff0000"/>
<rect x="810" y="433" width="3" height="39.5" fill="#1f77b4"/>
<rect x="811" y="434" width="1" height="38.5" fill="#ff0000"/>
<rect x="812" y="433" width="3" height="39.5" fill="#1f77b4"/>
<rect x="813" y="434" width="1" height="38.5" fill="#ff0000"/>
<rect x="815" y="433" width="2" height="39.5" fill="#1f77b4"/>
<rect x="815" y="434" width="1" height="38.5" fill="#ff0000"/>
<rect x="817" y="433" width="3" height="39.5" fill="#1f77b4"/>
<rect x="818" y="434" width="1" height="38.5" fill="#ff0000"/>
<rect x="819" y="433" width="3" height="39.5" fill="#1f77b4"/>
<rect x="820" y="434" width="1" height="38.5" fill="#ff0000"/>
<rect x="821" y="433" width="3" height="39.5" fill="#1f77b4"/>
<rect x="822" y="434" width="1" height="38.5" fill="#ff0000"/>
<rect x="823" y="458" width="3" height="14.5" fill="#1f77b4"/>
<rect x="824" y="459" width="1" height="13.5" fill="#008000"/>
<rect x="826" y="458" width="2" height="14.5" fill="#1f77b4"/>
<rect x="828" y="458" width="3" height="14.5" fill="#1f77b4"/>
<rect x="829" y="459" width="1" height="13.5" fill="#008000"/>
<rect x="830" y="458" width="3" height="14.5" fill="#1f77b4"/>
<rect x="831" y="459" width="1" height="13.5" fill="#008000"/>
<rect x="832" y="458" width="3" height="14.5" fill="#1f77b4"/>
<rect x="833" y="459" width="1" height="13.5" fill="#008000"/>
<rect x="835" y="458" width="2" height="14.5" fill="#1f77b4"/>
<rect x="835" y="459" width="1" height="13.5" fill="#008000"/>
<rect x="837" y="458" width="3" height="14.5" fill="#1f77b4"/>
<rect x="838" y="459" width="1" height="13.5" fill="#008000"/>
<rect x="839" y="445" width="3" height="27.5" fill="#1f77b4"/>
<rect x="840" y="446" width="1" height="26.5" fill="#008000"/>
<rect x="841" y="445" width="3" height="27.5" fill="#1f77b4"/>
<rect x="842" y="446" width="1" height="26.5" fill="#008000"/>
<rect x="843" y="445" width="3" height="27.5" fill="#1f77b4"/>
<rect x="844" y="446" width="1" height="26.5" fill="#008000"/>
<rect x="846" y="445" width="2" height="27.5" fill="#1f77b4"/>
<rect x="848" y="445" width="3" height="27.5" fill="#1f77b4"/>
<rect x="849" y="446" width="1" height="26.5" fill="#008000"/>
<rect x="850" y="445" width="3" height="27.5" fill="#1f77b4"/>
<rect x="851" y="446" width="1" height="26.5" fill="#008000"/>
<rect x="852" y="444" width="3" height="28.5" fill="#1f77b4"/>
<rect x="853" y="445" width="1" height="27.5" fill="#ff0000"/>
<rect x="855" y="444" width="2" height="28.5" fill="#1f77b4"/>
<rect x="855" y="445" width="1" height="27.5" fill="#ff0000"/>
<rect x="857" y="444" width="3" height="28.5" fill="#1f77b4"/>
<rect x="858" y="445" width="1" height="27.5" fill="#ff0000"/>
<rect x="859" y="444" width="3" height="28.5" fill="#1f77b4"/>
<rect x="860" y="445" width="1" height="27.5" fill="#ff0000"/>
<rect x="861" y="444" width="3" height="28.5" fill="#1f77b4"/>
<rect x="862" y="445" width="1" height="27.5" fill="#ff0000"/>
<rect x="863" y="456" width="3" height="16.5" fill="#1f77b4"/>
<rect x="864" y="457" width="1" height="15.5" fill="#008000"/>
<rect x="866" y="456" width="2" height="16.5" fill="#1f77b4"/>
<rect x="868" y="456" width="3" height="16.5" fill="#1f77b4"/>
<rect x="869" y="457" width="1" height="15.5" fill="#008000"/>
<rect x="870" y="456" width="3" height="16.5" fill="#1f77b4"/>
<rect x="871" y="457" width="1" height="15.5" fill="#008000"/>
<rect x="872" y="463" width="3" height="9.5" fill="#1f77b4"/>
<rect x="873" y="464" width="1" height="8.5" fill="#ff0000"/>
<rect x="875" y="463" width="2" height="9.5" fill="#1f77b4"/>
<rect x="877" y="463" width="3" height="9.5" fill="#1f77b4"/>
<rect x="878" y="464" width="1" height="8.5" fill="#ff0000"/>
<rect x="879" y="452" width="3" height="20.5" fill="#1f77b4"/>
<rect x="880" y="453" width="1" height="19.5" fill="#ff0000"/>
<rect x="881" y="452" width="3" height="20.5" fill="#1f77b4"/>
<rect x="882" y="453" width="1" height="19.5" fill="#ff0000"/>
<rect x="883" y="415" width="3" height="57.5" fill="#1f77b4"/>
<rect x="884" y="416" width="1" height="56.5" fill="#008000"/>
</g>
<g stroke="#000" stroke-width="1.1" fill="none" shape-rendering="crispEdges">
<rect x="184.5" y="69.5" width="736" height="288"/>
<rect x="184.5" y="357.5" width="736" height="115"/>
<line x1="179.64" y1="126.5" x2="184.5" y2="126.5"/>
<line x1="179.64" y1="184.5" x2="184.5" y2="184.5"/>
<line x1="179.64" y1="242.5" x2="184.5" y2="242.5"/>
<line x1="179.64" y1="300.5" x2="184.5" y2="300.5"/>
<line x1="179.64" y1="368.5" x2="184.5" y2="368.5"/>
<line x1="179.64" y1="404.5" x2="184.5" y2="404.5"/>
<line x1="179.64" y1="440.5" x2="184.5" y2="440.5"/>
<line x1="220.5" y1="472.5" x2="220.5" y2="477.36"/>
<line x1="331.5" y1="472.5" x2="331.5" y2="477.36"/>
<line x1="442.5" y1="472.5" x2="442.5" y2="477.36"/>
<line x1="553.5" y1="472.5" x2="553.5" y2="477.36"/>
<line x1="664.5" y1="472.5" x2="664.5" y2="477.36"/>
<line x1="775.5" y1="472.5" x2="775.5" y2="477.36"/>
<line x1="887.5" y1="472.5" x2="887.5" y2="477.36"/>
</g>
<text transform="translate(229.77,15.86) scale(0.9555,1)" x="0.01 13.30 24.36 35.58 46.19 60.65 73.29 79.26 90.18 101.08 107.22 122.62 127.57 138.51 149.92 156.25 166.55 171.56 184.74 194.91 206.80 213.89 219.83 225.30 232.44 243.72 254.55 265.77 276.50 283.07 294.13 304.89 311.45 322.37 333.12 339.09 350.18 361.20 367.14 378.20 390.77 403.59 414.87 425.83 431.78 442.84 454.22 460.14 465.81 471.94 477.48 492.40 504.34 510.19 521.05 531.51 537.08 550.32 559.27 572.35 578.33" y="0" font-size="18">N225MC 12-Minute Chart (2025-11-12 19:00~20:00) - MA on HLC/3</text>
<text transform="translate(129.70,130.80) scale(1.0019,1)" x="0.36 9.02 17.78 26.26 35.12" y="0" font-size="14.1">51320</text>
<text transform="translate(129.75,188.80) scale(1.0095,1)" x="0.33 8.92 17.62 26.21 34.82" y="0" font-size="14.1">51300</text>
<text transform="translate(129.75,246.80) scale(1.0125,1)" x="0.32 8.88 17.36 26.12 34.70" y="0" font-size="14.1">51280</text>
<text transform="translate(129.75,304.80) scale(1.0174,1)" x="0.30 8.82 17.26 25.98 34.52" y="0" font-size="14.1">51260</text>
<text transform="translate(139.50,373.80) scale(1.0127,1)" x="0.31 8.92 17.56 26.15" y="0" font-size="14.1">1500</text>
<text transform="translate(139.41,410.10) scale(1.0276,1)" x="0.21 8.70 17.12 25.53" y="0" font-size="14.1">1000</text>
<text transform="translate(147.64,445.10) scale(1.0190,1)" x="0.31 8.92 17.47" y="0" font-size="14.1">500</text>
<text transform="translate(121.63,232.23) rotate(-90) scale(1.0127,1)" x="-0.46 8.45 13.58 16.97 24.53" y="0" font-size="14.1">Price</text>
<text transform="translate(130.03,440.30) rotate(-90) scale(1.0586,1)" x="-0.37 7.58 15.56 18.95 27.23 39.22" y="0" font-size="14.1">Volume</text>
<text transform="translate(207.38,518.44) rotate(-45) scale(1.0234,1)" x="0.32 8.98 17.58 22.21 30.78" y="0" font-size="14.1">19:45</text>
<text transform="translate(318.52,518.44) rotate(-45) scale(1.0234,1)" x="0.32 8.98 17.58 22.16 30.84" y="0" font-size="14.1">19:54</text>
<text transform="translate(429.67,518.44) rotate(-45) scale(1.0212,1)" x="0.22 9.05 17.62 22.27 30.93" y="0" font-size="14.1">20:03</text>
<text transform="translate(540.81,518.44) rotate(-45) scale(1.0114,1)" x="0.26 9.17 17.81 22.45 31.07" y="0" font-size="14.1">20:12</text>
<text transform="translate(651.96,518.44) rotate(-45) scale(1.0114,1)" x="0.26 9.17 17.81 22.34 31.18" y="0" font-size="14.1">20:21</text>
<text transform="translate(763.10,518.44) rotate(-45) scale(1.0113,1)" x="0.26 9.17 17.82 22.54 31.27" y="0" font-size="14.1">20:33</text>
</svg></body></html>
